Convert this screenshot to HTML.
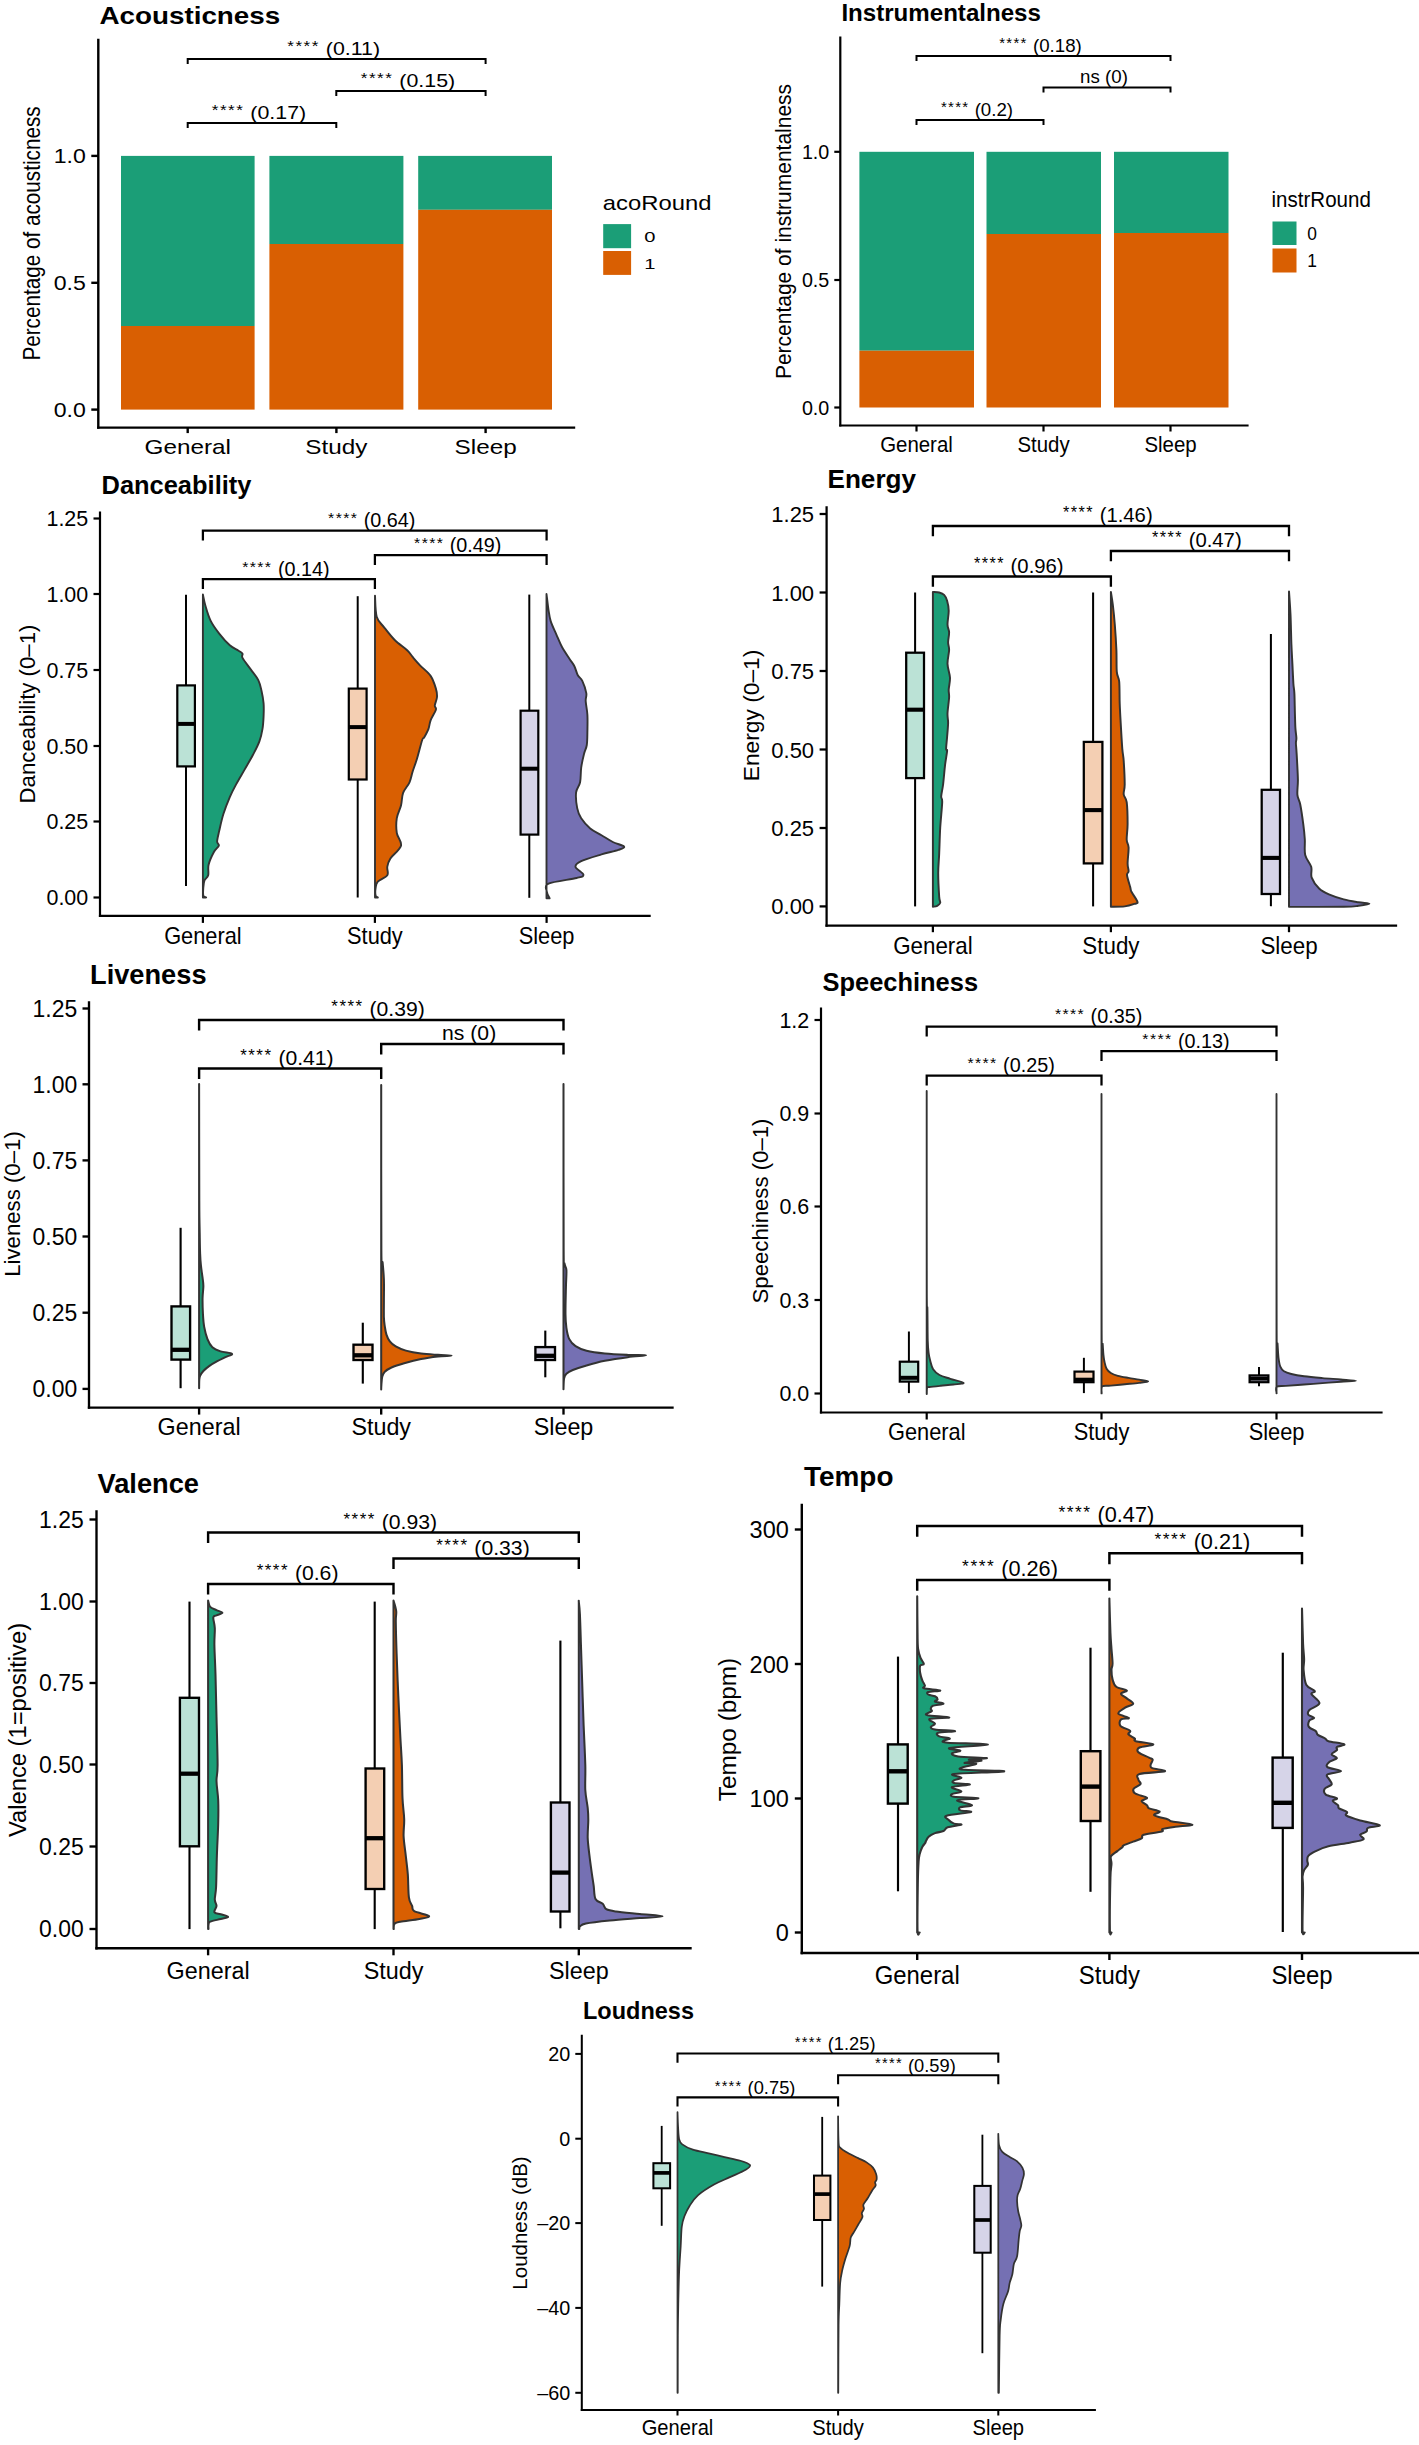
<!DOCTYPE html>
<html><head><meta charset="utf-8"><style>
html,body{margin:0;padding:0;background:#fff;}
svg{display:block;}
text{font-family:"Liberation Sans", sans-serif;}
</style></head><body>
<svg width="1419" height="2445" viewBox="0 0 1419 2445">
<rect width="1419" height="2445" fill="#fff"/>
<text transform="translate(99.40,24.30) scale(1.145,1)" font-size="24.30" text-anchor="start" font-weight="bold" fill="#000">Acousticness</text>
<rect x="121.00" y="155.90" width="133.60" height="170.10" fill="#1B9E77"/>
<rect x="121.00" y="326.00" width="133.60" height="83.60" fill="#D95F02"/>
<rect x="269.40" y="155.90" width="134.00" height="88.10" fill="#1B9E77"/>
<rect x="269.40" y="244.00" width="134.00" height="165.60" fill="#D95F02"/>
<rect x="418.20" y="155.90" width="133.80" height="53.90" fill="#1B9E77"/>
<rect x="418.20" y="209.80" width="133.80" height="199.80" fill="#D95F02"/>
<path d="M98.30,40.00 L98.30,427.60" stroke="#000" stroke-width="2.40" stroke-linecap="square" fill="none"/>
<line x1="91.30" y1="155.90" x2="98.30" y2="155.90" stroke="#000" stroke-width="2.40" stroke-linecap="butt"/>
<text transform="translate(85.80,162.96) scale(1.160,1)" font-size="19.90" text-anchor="end" fill="#000">1.0</text>
<line x1="91.30" y1="282.80" x2="98.30" y2="282.80" stroke="#000" stroke-width="2.40" stroke-linecap="butt"/>
<text transform="translate(85.80,289.86) scale(1.160,1)" font-size="19.90" text-anchor="end" fill="#000">0.5</text>
<line x1="91.30" y1="409.60" x2="98.30" y2="409.60" stroke="#000" stroke-width="2.40" stroke-linecap="butt"/>
<text transform="translate(85.80,416.66) scale(1.160,1)" font-size="19.90" text-anchor="end" fill="#000">0.0</text>
<path d="M98.30,427.60 L574.00,427.60" stroke="#000" stroke-width="2.40" stroke-linecap="square" fill="none"/>
<line x1="187.70" y1="427.60" x2="187.70" y2="433.10" stroke="#000" stroke-width="2.40" stroke-linecap="butt"/>
<text transform="translate(187.70,454.00) scale(1.240,1)" font-size="19.60" text-anchor="middle" fill="#000">General</text>
<line x1="336.40" y1="427.60" x2="336.40" y2="433.10" stroke="#000" stroke-width="2.40" stroke-linecap="butt"/>
<text transform="translate(336.40,454.00) scale(1.240,1)" font-size="19.60" text-anchor="middle" fill="#000">Study</text>
<line x1="485.60" y1="427.60" x2="485.60" y2="433.10" stroke="#000" stroke-width="2.40" stroke-linecap="butt"/>
<text transform="translate(485.60,454.00) scale(1.240,1)" font-size="19.60" text-anchor="middle" fill="#000">Sleep</text>
<path d="M187.70,64.00 L187.70,59.00 L485.60,59.00 L485.60,64.00" fill="none" stroke="#000" stroke-width="2.00"/>
<text transform="translate(333.65,54.80) scale(1.150,1)" font-size="18.60" text-anchor="middle"><tspan font-size="14.88" letter-spacing="1.30" dy="-3.72">****</tspan><tspan dy="3.72"> (0.11)</tspan></text>
<path d="M336.30,96.00 L336.30,91.00 L485.60,91.00 L485.60,96.00" fill="none" stroke="#000" stroke-width="2.00"/>
<text transform="translate(407.95,86.80) scale(1.150,1)" font-size="18.60" text-anchor="middle"><tspan font-size="14.88" letter-spacing="1.30" dy="-3.72">****</tspan><tspan dy="3.72"> (0.15)</tspan></text>
<path d="M187.70,128.00 L187.70,123.00 L336.30,123.00 L336.30,128.00" fill="none" stroke="#000" stroke-width="2.00"/>
<text transform="translate(259.00,118.80) scale(1.150,1)" font-size="18.60" text-anchor="middle"><tspan font-size="14.88" letter-spacing="1.30" dy="-3.72">****</tspan><tspan dy="3.72"> (0.17)</tspan></text>
<text transform="translate(40.20,233.50) scale(1.150,1) rotate(-90)" font-size="20.70" text-anchor="middle" fill="#000">Percentage of acousticness</text>
<text transform="translate(602.80,210.00) scale(1.130,1)" font-size="21.10" text-anchor="start" fill="#000">acoRound</text>
<rect x="603.20" y="224.10" width="27.90" height="24.10" fill="#1B9E77"/>
<rect x="603.20" y="251.00" width="27.90" height="23.90" fill="#D95F02"/>
<text transform="translate(644.30,242.20) scale(1.300,1)" font-size="15.50" text-anchor="start" fill="#000">0</text>
<text transform="translate(644.30,268.80) scale(1.300,1)" font-size="15.50" text-anchor="start" fill="#000">1</text>
<text transform="translate(841.40,21.10) scale(1.000,1)" font-size="24.10" text-anchor="start" font-weight="bold" fill="#000">Instrumentalness</text>
<rect x="859.40" y="151.80" width="114.60" height="198.90" fill="#1B9E77"/>
<rect x="859.40" y="350.70" width="114.60" height="56.80" fill="#D95F02"/>
<rect x="986.50" y="151.80" width="114.50" height="82.20" fill="#1B9E77"/>
<rect x="986.50" y="234.00" width="114.50" height="173.50" fill="#D95F02"/>
<rect x="1114.00" y="151.80" width="114.50" height="81.20" fill="#1B9E77"/>
<rect x="1114.00" y="233.00" width="114.50" height="174.50" fill="#D95F02"/>
<path d="M840.30,37.60 L840.30,425.50" stroke="#000" stroke-width="2.20" stroke-linecap="square" fill="none"/>
<line x1="834.30" y1="151.80" x2="840.30" y2="151.80" stroke="#000" stroke-width="2.20" stroke-linecap="butt"/>
<text transform="translate(829.30,158.94) scale(0.980,1)" font-size="20.10" text-anchor="end" fill="#000">1.0</text>
<line x1="834.30" y1="280.00" x2="840.30" y2="280.00" stroke="#000" stroke-width="2.20" stroke-linecap="butt"/>
<text transform="translate(829.30,287.14) scale(0.980,1)" font-size="20.10" text-anchor="end" fill="#000">0.5</text>
<line x1="834.30" y1="407.50" x2="840.30" y2="407.50" stroke="#000" stroke-width="2.20" stroke-linecap="butt"/>
<text transform="translate(829.30,414.64) scale(0.980,1)" font-size="20.10" text-anchor="end" fill="#000">0.0</text>
<path d="M840.30,425.50 L1247.50,425.50" stroke="#000" stroke-width="2.20" stroke-linecap="square" fill="none"/>
<line x1="916.50" y1="425.50" x2="916.50" y2="431.50" stroke="#000" stroke-width="2.20" stroke-linecap="butt"/>
<text transform="translate(916.50,452.30) scale(0.924,1)" font-size="22.10" text-anchor="middle" fill="#000">General</text>
<line x1="1043.50" y1="425.50" x2="1043.50" y2="431.50" stroke="#000" stroke-width="2.20" stroke-linecap="butt"/>
<text transform="translate(1043.50,452.30) scale(0.924,1)" font-size="22.10" text-anchor="middle" fill="#000">Study</text>
<line x1="1170.50" y1="425.50" x2="1170.50" y2="431.50" stroke="#000" stroke-width="2.20" stroke-linecap="butt"/>
<text transform="translate(1170.50,452.30) scale(0.924,1)" font-size="22.10" text-anchor="middle" fill="#000">Sleep</text>
<path d="M916.50,61.00 L916.50,56.00 L1170.50,56.00 L1170.50,61.00" fill="none" stroke="#000" stroke-width="2.00"/>
<text transform="translate(1040.50,51.80) scale(1.050,1)" font-size="17.80" text-anchor="middle"><tspan font-size="14.24" letter-spacing="1.25" dy="-3.56">****</tspan><tspan dy="3.56"> (0.18)</tspan></text>
<path d="M1043.50,92.50 L1043.50,87.50 L1170.50,87.50 L1170.50,92.50" fill="none" stroke="#000" stroke-width="2.00"/>
<text transform="translate(1104.00,83.30) scale(1.050,1)" font-size="17.80" text-anchor="middle" fill="#000">ns (0)</text>
<path d="M916.50,125.00 L916.50,120.00 L1043.50,120.00 L1043.50,125.00" fill="none" stroke="#000" stroke-width="2.00"/>
<text transform="translate(977.00,115.90) scale(1.050,1)" font-size="17.80" text-anchor="middle"><tspan font-size="14.24" letter-spacing="1.25" dy="-3.56">****</tspan><tspan dy="3.56"> (0.2)</tspan></text>
<text transform="translate(790.70,231.50) scale(1.080,1) rotate(-90)" font-size="21.00" text-anchor="middle" fill="#000">Percentage of instrumentalness</text>
<text transform="translate(1271.50,207.00) scale(0.960,1)" font-size="21.40" text-anchor="start" fill="#000">instrRound</text>
<rect x="1272.50" y="221.50" width="24.00" height="23.50" fill="#1B9E77"/>
<rect x="1272.50" y="248.50" width="24.00" height="24.00" fill="#D95F02"/>
<text transform="translate(1307.20,240.20) scale(0.950,1)" font-size="18.30" text-anchor="start" fill="#000">0</text>
<text transform="translate(1307.20,267.20) scale(0.950,1)" font-size="18.30" text-anchor="start" fill="#000">1</text>
<text transform="translate(101.50,493.90) scale(0.979,1)" font-size="26.00" text-anchor="start" font-weight="bold" fill="#000">Danceability</text>
<path d="M100.00,512.50 L100.00,915.90" stroke="#000" stroke-width="2.20" stroke-linecap="square" fill="none"/>
<line x1="93.50" y1="518.50" x2="100.00" y2="518.50" stroke="#000" stroke-width="2.20" stroke-linecap="butt"/>
<text transform="translate(88.20,526.38) scale(0.966,1)" font-size="22.20" text-anchor="end" fill="#000">1.25</text>
<line x1="93.50" y1="594.00" x2="100.00" y2="594.00" stroke="#000" stroke-width="2.20" stroke-linecap="butt"/>
<text transform="translate(88.20,601.88) scale(0.966,1)" font-size="22.20" text-anchor="end" fill="#000">1.00</text>
<line x1="93.50" y1="670.00" x2="100.00" y2="670.00" stroke="#000" stroke-width="2.20" stroke-linecap="butt"/>
<text transform="translate(88.20,677.88) scale(0.966,1)" font-size="22.20" text-anchor="end" fill="#000">0.75</text>
<line x1="93.50" y1="746.00" x2="100.00" y2="746.00" stroke="#000" stroke-width="2.20" stroke-linecap="butt"/>
<text transform="translate(88.20,753.88) scale(0.966,1)" font-size="22.20" text-anchor="end" fill="#000">0.50</text>
<line x1="93.50" y1="821.50" x2="100.00" y2="821.50" stroke="#000" stroke-width="2.20" stroke-linecap="butt"/>
<text transform="translate(88.20,829.38) scale(0.966,1)" font-size="22.20" text-anchor="end" fill="#000">0.25</text>
<line x1="93.50" y1="897.50" x2="100.00" y2="897.50" stroke="#000" stroke-width="2.20" stroke-linecap="butt"/>
<text transform="translate(88.20,905.38) scale(0.966,1)" font-size="22.20" text-anchor="end" fill="#000">0.00</text>
<path d="M100.00,915.90 L649.60,915.90" stroke="#000" stroke-width="2.20" stroke-linecap="square" fill="none"/>
<line x1="202.90" y1="915.90" x2="202.90" y2="922.90" stroke="#000" stroke-width="2.20" stroke-linecap="butt"/>
<text transform="translate(202.90,944.10) scale(0.940,1)" font-size="23.20" text-anchor="middle" fill="#000">General</text>
<line x1="374.90" y1="915.90" x2="374.90" y2="922.90" stroke="#000" stroke-width="2.20" stroke-linecap="butt"/>
<text transform="translate(374.90,944.10) scale(0.940,1)" font-size="23.20" text-anchor="middle" fill="#000">Study</text>
<line x1="546.60" y1="915.90" x2="546.60" y2="922.90" stroke="#000" stroke-width="2.20" stroke-linecap="butt"/>
<text transform="translate(546.60,944.10) scale(0.940,1)" font-size="23.20" text-anchor="middle" fill="#000">Sleep</text>
<path d="M202.90,540.60 L202.90,530.70 L546.60,530.70 L546.60,540.60" fill="none" stroke="#000" stroke-width="2.25"/>
<text transform="translate(371.75,527.20) scale(1.020,1)" font-size="19.40" text-anchor="middle"><tspan font-size="15.52" letter-spacing="1.36" dy="-3.88">****</tspan><tspan dy="3.88"> (0.64)</tspan></text>
<path d="M374.90,564.90 L374.90,555.00 L546.60,555.00 L546.60,564.90" fill="none" stroke="#000" stroke-width="2.25"/>
<text transform="translate(457.75,551.50) scale(1.020,1)" font-size="19.40" text-anchor="middle"><tspan font-size="15.52" letter-spacing="1.36" dy="-3.88">****</tspan><tspan dy="3.88"> (0.49)</tspan></text>
<path d="M202.90,589.10 L202.90,579.20 L374.90,579.20 L374.90,589.10" fill="none" stroke="#000" stroke-width="2.25"/>
<text transform="translate(285.90,575.70) scale(1.020,1)" font-size="19.40" text-anchor="middle"><tspan font-size="15.52" letter-spacing="1.36" dy="-3.88">****</tspan><tspan dy="3.88"> (0.14)</tspan></text>
<text transform="translate(35.00,714.00) scale(1.000,1) rotate(-90)" font-size="22.20" text-anchor="middle" fill="#000">Danceability (0–1)</text>
<text transform="translate(827.50,487.50) scale(0.979,1)" font-size="26.68" text-anchor="start" font-weight="bold" fill="#000">Energy</text>
<path d="M826.60,507.50 L826.60,925.70" stroke="#000" stroke-width="2.26" stroke-linecap="square" fill="none"/>
<line x1="819.60" y1="514.00" x2="826.60" y2="514.00" stroke="#000" stroke-width="2.26" stroke-linecap="butt"/>
<text transform="translate(814.10,522.09) scale(0.966,1)" font-size="22.78" text-anchor="end" fill="#000">1.25</text>
<line x1="819.60" y1="592.50" x2="826.60" y2="592.50" stroke="#000" stroke-width="2.26" stroke-linecap="butt"/>
<text transform="translate(814.10,600.59) scale(0.966,1)" font-size="22.78" text-anchor="end" fill="#000">1.00</text>
<line x1="819.60" y1="671.00" x2="826.60" y2="671.00" stroke="#000" stroke-width="2.26" stroke-linecap="butt"/>
<text transform="translate(814.10,679.09) scale(0.966,1)" font-size="22.78" text-anchor="end" fill="#000">0.75</text>
<line x1="819.60" y1="749.50" x2="826.60" y2="749.50" stroke="#000" stroke-width="2.26" stroke-linecap="butt"/>
<text transform="translate(814.10,757.59) scale(0.966,1)" font-size="22.78" text-anchor="end" fill="#000">0.50</text>
<line x1="819.60" y1="828.00" x2="826.60" y2="828.00" stroke="#000" stroke-width="2.26" stroke-linecap="butt"/>
<text transform="translate(814.10,836.09) scale(0.966,1)" font-size="22.78" text-anchor="end" fill="#000">0.25</text>
<line x1="819.60" y1="906.40" x2="826.60" y2="906.40" stroke="#000" stroke-width="2.26" stroke-linecap="butt"/>
<text transform="translate(814.10,914.49) scale(0.966,1)" font-size="22.78" text-anchor="end" fill="#000">0.00</text>
<path d="M826.60,925.70 L1396.00,925.70" stroke="#000" stroke-width="2.26" stroke-linecap="square" fill="none"/>
<line x1="932.90" y1="925.70" x2="932.90" y2="932.20" stroke="#000" stroke-width="2.26" stroke-linecap="butt"/>
<text transform="translate(932.90,953.60) scale(0.940,1)" font-size="23.80" text-anchor="middle" fill="#000">General</text>
<line x1="1110.90" y1="925.70" x2="1110.90" y2="932.20" stroke="#000" stroke-width="2.26" stroke-linecap="butt"/>
<text transform="translate(1110.90,953.60) scale(0.940,1)" font-size="23.80" text-anchor="middle" fill="#000">Study</text>
<line x1="1289.00" y1="925.70" x2="1289.00" y2="932.20" stroke="#000" stroke-width="2.26" stroke-linecap="butt"/>
<text transform="translate(1289.00,953.60) scale(0.940,1)" font-size="23.80" text-anchor="middle" fill="#000">Sleep</text>
<path d="M932.90,536.16 L932.90,526.00 L1289.00,526.00 L1289.00,536.16" fill="none" stroke="#000" stroke-width="2.31"/>
<text transform="translate(1107.87,522.41) scale(1.020,1)" font-size="19.90" text-anchor="middle"><tspan font-size="15.92" letter-spacing="1.39" dy="-3.98">****</tspan><tspan dy="3.98"> (1.46)</tspan></text>
<path d="M1110.90,561.16 L1110.90,551.00 L1289.00,551.00 L1289.00,561.16" fill="none" stroke="#000" stroke-width="2.31"/>
<text transform="translate(1196.87,547.41) scale(1.020,1)" font-size="19.90" text-anchor="middle"><tspan font-size="15.92" letter-spacing="1.39" dy="-3.98">****</tspan><tspan dy="3.98"> (0.47)</tspan></text>
<path d="M932.90,586.66 L932.90,576.50 L1110.90,576.50 L1110.90,586.66" fill="none" stroke="#000" stroke-width="2.31"/>
<text transform="translate(1018.82,572.91) scale(1.020,1)" font-size="19.90" text-anchor="middle"><tspan font-size="15.92" letter-spacing="1.39" dy="-3.98">****</tspan><tspan dy="3.98"> (0.96)</tspan></text>
<text transform="translate(758.70,715.50) scale(1.000,1) rotate(-90)" font-size="22.78" text-anchor="middle" fill="#000">Energy (0–1)</text>
<text transform="translate(90.00,983.50) scale(0.979,1)" font-size="27.82" text-anchor="start" font-weight="bold" fill="#000">Liveness</text>
<path d="M89.00,1002.50 L89.00,1407.60" stroke="#000" stroke-width="2.35" stroke-linecap="square" fill="none"/>
<line x1="82.50" y1="1008.50" x2="89.00" y2="1008.50" stroke="#000" stroke-width="2.35" stroke-linecap="butt"/>
<text transform="translate(77.20,1016.93) scale(0.966,1)" font-size="23.75" text-anchor="end" fill="#000">1.25</text>
<line x1="82.50" y1="1084.30" x2="89.00" y2="1084.30" stroke="#000" stroke-width="2.35" stroke-linecap="butt"/>
<text transform="translate(77.20,1092.73) scale(0.966,1)" font-size="23.75" text-anchor="end" fill="#000">1.00</text>
<line x1="82.50" y1="1160.40" x2="89.00" y2="1160.40" stroke="#000" stroke-width="2.35" stroke-linecap="butt"/>
<text transform="translate(77.20,1168.83) scale(0.966,1)" font-size="23.75" text-anchor="end" fill="#000">0.75</text>
<line x1="82.50" y1="1236.50" x2="89.00" y2="1236.50" stroke="#000" stroke-width="2.35" stroke-linecap="butt"/>
<text transform="translate(77.20,1244.93) scale(0.966,1)" font-size="23.75" text-anchor="end" fill="#000">0.50</text>
<line x1="82.50" y1="1312.70" x2="89.00" y2="1312.70" stroke="#000" stroke-width="2.35" stroke-linecap="butt"/>
<text transform="translate(77.20,1321.13) scale(0.966,1)" font-size="23.75" text-anchor="end" fill="#000">0.25</text>
<line x1="82.50" y1="1388.90" x2="89.00" y2="1388.90" stroke="#000" stroke-width="2.35" stroke-linecap="butt"/>
<text transform="translate(77.20,1397.33) scale(0.966,1)" font-size="23.75" text-anchor="end" fill="#000">0.00</text>
<path d="M89.00,1407.60 L672.50,1407.60" stroke="#000" stroke-width="2.35" stroke-linecap="square" fill="none"/>
<line x1="199.10" y1="1407.60" x2="199.10" y2="1414.60" stroke="#000" stroke-width="2.35" stroke-linecap="butt"/>
<text transform="translate(199.10,1435.00) scale(0.940,1)" font-size="24.82" text-anchor="middle" fill="#000">General</text>
<line x1="381.20" y1="1407.60" x2="381.20" y2="1414.60" stroke="#000" stroke-width="2.35" stroke-linecap="butt"/>
<text transform="translate(381.20,1435.00) scale(0.940,1)" font-size="24.82" text-anchor="middle" fill="#000">Study</text>
<line x1="563.50" y1="1407.60" x2="563.50" y2="1414.60" stroke="#000" stroke-width="2.35" stroke-linecap="butt"/>
<text transform="translate(563.50,1435.00) scale(0.940,1)" font-size="24.82" text-anchor="middle" fill="#000">Sleep</text>
<path d="M199.10,1030.59 L199.10,1020.00 L563.50,1020.00 L563.50,1030.59" fill="none" stroke="#000" stroke-width="2.41"/>
<text transform="translate(378.09,1016.25) scale(1.020,1)" font-size="20.76" text-anchor="middle"><tspan font-size="16.61" letter-spacing="1.45" dy="-4.15">****</tspan><tspan dy="4.15"> (0.39)</tspan></text>
<path d="M381.20,1054.59 L381.20,1044.00 L563.50,1044.00 L563.50,1054.59" fill="none" stroke="#000" stroke-width="2.41"/>
<text transform="translate(469.14,1040.26) scale(1.020,1)" font-size="20.76" text-anchor="middle" fill="#000">ns (0)</text>
<path d="M199.10,1079.09 L199.10,1068.50 L381.20,1068.50 L381.20,1079.09" fill="none" stroke="#000" stroke-width="2.41"/>
<text transform="translate(286.94,1064.76) scale(1.020,1)" font-size="20.76" text-anchor="middle"><tspan font-size="16.61" letter-spacing="1.45" dy="-4.15">****</tspan><tspan dy="4.15"> (0.41)</tspan></text>
<text transform="translate(20.00,1204.00) scale(1.000,1) rotate(-90)" font-size="22.20" text-anchor="middle" fill="#000">Liveness (0–1)</text>
<text transform="translate(822.50,991.00) scale(0.979,1)" font-size="26.00" text-anchor="start" font-weight="bold" fill="#000">Speechiness</text>
<path d="M821.00,1008.50 L821.00,1412.50" stroke="#000" stroke-width="2.20" stroke-linecap="square" fill="none"/>
<line x1="814.50" y1="1020.00" x2="821.00" y2="1020.00" stroke="#000" stroke-width="2.20" stroke-linecap="butt"/>
<text transform="translate(809.20,1027.88) scale(0.966,1)" font-size="22.20" text-anchor="end" fill="#000">1.2</text>
<line x1="814.50" y1="1113.50" x2="821.00" y2="1113.50" stroke="#000" stroke-width="2.20" stroke-linecap="butt"/>
<text transform="translate(809.20,1121.38) scale(0.966,1)" font-size="22.20" text-anchor="end" fill="#000">0.9</text>
<line x1="814.50" y1="1206.50" x2="821.00" y2="1206.50" stroke="#000" stroke-width="2.20" stroke-linecap="butt"/>
<text transform="translate(809.20,1214.38) scale(0.966,1)" font-size="22.20" text-anchor="end" fill="#000">0.6</text>
<line x1="814.50" y1="1300.00" x2="821.00" y2="1300.00" stroke="#000" stroke-width="2.20" stroke-linecap="butt"/>
<text transform="translate(809.20,1307.88) scale(0.966,1)" font-size="22.20" text-anchor="end" fill="#000">0.3</text>
<line x1="814.50" y1="1393.50" x2="821.00" y2="1393.50" stroke="#000" stroke-width="2.20" stroke-linecap="butt"/>
<text transform="translate(809.20,1401.38) scale(0.966,1)" font-size="22.20" text-anchor="end" fill="#000">0.0</text>
<path d="M821.00,1412.50 L1381.50,1412.50" stroke="#000" stroke-width="2.20" stroke-linecap="square" fill="none"/>
<line x1="926.70" y1="1412.50" x2="926.70" y2="1419.50" stroke="#000" stroke-width="2.20" stroke-linecap="butt"/>
<text transform="translate(926.70,1440.00) scale(0.940,1)" font-size="23.20" text-anchor="middle" fill="#000">General</text>
<line x1="1101.50" y1="1412.50" x2="1101.50" y2="1419.50" stroke="#000" stroke-width="2.20" stroke-linecap="butt"/>
<text transform="translate(1101.50,1440.00) scale(0.940,1)" font-size="23.20" text-anchor="middle" fill="#000">Study</text>
<line x1="1276.50" y1="1412.50" x2="1276.50" y2="1419.50" stroke="#000" stroke-width="2.20" stroke-linecap="butt"/>
<text transform="translate(1276.50,1440.00) scale(0.940,1)" font-size="23.20" text-anchor="middle" fill="#000">Sleep</text>
<path d="M926.70,1036.40 L926.70,1026.50 L1276.50,1026.50 L1276.50,1036.40" fill="none" stroke="#000" stroke-width="2.25"/>
<text transform="translate(1098.60,1023.00) scale(1.020,1)" font-size="19.40" text-anchor="middle"><tspan font-size="15.52" letter-spacing="1.36" dy="-3.88">****</tspan><tspan dy="3.88"> (0.35)</tspan></text>
<path d="M1101.50,1060.90 L1101.50,1051.00 L1276.50,1051.00 L1276.50,1060.90" fill="none" stroke="#000" stroke-width="2.25"/>
<text transform="translate(1186.00,1047.50) scale(1.020,1)" font-size="19.40" text-anchor="middle"><tspan font-size="15.52" letter-spacing="1.36" dy="-3.88">****</tspan><tspan dy="3.88"> (0.13)</tspan></text>
<path d="M926.70,1085.40 L926.70,1075.50 L1101.50,1075.50 L1101.50,1085.40" fill="none" stroke="#000" stroke-width="2.25"/>
<text transform="translate(1011.10,1072.00) scale(1.020,1)" font-size="19.40" text-anchor="middle"><tspan font-size="15.52" letter-spacing="1.36" dy="-3.88">****</tspan><tspan dy="3.88"> (0.25)</tspan></text>
<text transform="translate(768.30,1211.00) scale(1.000,1) rotate(-90)" font-size="22.20" text-anchor="middle" fill="#000">Speechiness (0–1)</text>
<text transform="translate(97.50,1492.50) scale(0.979,1)" font-size="27.85" text-anchor="start" font-weight="bold" fill="#000">Valence</text>
<path d="M96.50,1511.50 L96.50,1948.30" stroke="#000" stroke-width="2.36" stroke-linecap="square" fill="none"/>
<line x1="89.50" y1="1519.50" x2="96.50" y2="1519.50" stroke="#000" stroke-width="2.36" stroke-linecap="butt"/>
<text transform="translate(83.70,1527.94) scale(0.966,1)" font-size="23.78" text-anchor="end" fill="#000">1.25</text>
<line x1="89.50" y1="1601.50" x2="96.50" y2="1601.50" stroke="#000" stroke-width="2.36" stroke-linecap="butt"/>
<text transform="translate(83.70,1609.94) scale(0.966,1)" font-size="23.78" text-anchor="end" fill="#000">1.00</text>
<line x1="89.50" y1="1683.00" x2="96.50" y2="1683.00" stroke="#000" stroke-width="2.36" stroke-linecap="butt"/>
<text transform="translate(83.70,1691.44) scale(0.966,1)" font-size="23.78" text-anchor="end" fill="#000">0.75</text>
<line x1="89.50" y1="1764.50" x2="96.50" y2="1764.50" stroke="#000" stroke-width="2.36" stroke-linecap="butt"/>
<text transform="translate(83.70,1772.94) scale(0.966,1)" font-size="23.78" text-anchor="end" fill="#000">0.50</text>
<line x1="89.50" y1="1846.50" x2="96.50" y2="1846.50" stroke="#000" stroke-width="2.36" stroke-linecap="butt"/>
<text transform="translate(83.70,1854.94) scale(0.966,1)" font-size="23.78" text-anchor="end" fill="#000">0.25</text>
<line x1="89.50" y1="1929.00" x2="96.50" y2="1929.00" stroke="#000" stroke-width="2.36" stroke-linecap="butt"/>
<text transform="translate(83.70,1937.44) scale(0.966,1)" font-size="23.78" text-anchor="end" fill="#000">0.00</text>
<path d="M96.50,1948.30 L690.50,1948.30" stroke="#000" stroke-width="2.36" stroke-linecap="square" fill="none"/>
<line x1="208.10" y1="1948.30" x2="208.10" y2="1955.30" stroke="#000" stroke-width="2.36" stroke-linecap="butt"/>
<text transform="translate(208.10,1978.90) scale(0.940,1)" font-size="24.85" text-anchor="middle" fill="#000">General</text>
<line x1="393.50" y1="1948.30" x2="393.50" y2="1955.30" stroke="#000" stroke-width="2.36" stroke-linecap="butt"/>
<text transform="translate(393.50,1978.90) scale(0.940,1)" font-size="24.85" text-anchor="middle" fill="#000">Study</text>
<line x1="578.80" y1="1948.30" x2="578.80" y2="1955.30" stroke="#000" stroke-width="2.36" stroke-linecap="butt"/>
<text transform="translate(578.80,1978.90) scale(0.940,1)" font-size="24.85" text-anchor="middle" fill="#000">Sleep</text>
<path d="M208.10,1543.10 L208.10,1532.50 L578.80,1532.50 L578.80,1543.10" fill="none" stroke="#000" stroke-width="2.41"/>
<text transform="translate(390.24,1528.75) scale(1.020,1)" font-size="20.78" text-anchor="middle"><tspan font-size="16.62" letter-spacing="1.45" dy="-4.16">****</tspan><tspan dy="4.16"> (0.93)</tspan></text>
<path d="M393.50,1569.10 L393.50,1558.50 L578.80,1558.50 L578.80,1569.10" fill="none" stroke="#000" stroke-width="2.41"/>
<text transform="translate(482.94,1554.75) scale(1.020,1)" font-size="20.78" text-anchor="middle"><tspan font-size="16.62" letter-spacing="1.45" dy="-4.16">****</tspan><tspan dy="4.16"> (0.33)</tspan></text>
<path d="M208.10,1594.60 L208.10,1584.00 L393.50,1584.00 L393.50,1594.60" fill="none" stroke="#000" stroke-width="2.41"/>
<text transform="translate(297.59,1580.25) scale(1.020,1)" font-size="20.78" text-anchor="middle"><tspan font-size="16.62" letter-spacing="1.45" dy="-4.16">****</tspan><tspan dy="4.16"> (0.6)</tspan></text>
<text transform="translate(25.90,1730.00) scale(1.000,1) rotate(-90)" font-size="23.78" text-anchor="middle" fill="#000">Valence (1=positive)</text>
<text transform="translate(804.00,1486.00) scale(0.979,1)" font-size="28.52" text-anchor="start" font-weight="bold" fill="#000">Tempo</text>
<path d="M801.80,1505.00 L801.80,1953.00" stroke="#000" stroke-width="2.41" stroke-linecap="square" fill="none"/>
<line x1="794.80" y1="1529.50" x2="801.80" y2="1529.50" stroke="#000" stroke-width="2.41" stroke-linecap="butt"/>
<text transform="translate(788.80,1538.15) scale(0.966,1)" font-size="24.35" text-anchor="end" fill="#000">300</text>
<line x1="794.80" y1="1664.00" x2="801.80" y2="1664.00" stroke="#000" stroke-width="2.41" stroke-linecap="butt"/>
<text transform="translate(788.80,1672.65) scale(0.966,1)" font-size="24.35" text-anchor="end" fill="#000">200</text>
<line x1="794.80" y1="1798.50" x2="801.80" y2="1798.50" stroke="#000" stroke-width="2.41" stroke-linecap="butt"/>
<text transform="translate(788.80,1807.15) scale(0.966,1)" font-size="24.35" text-anchor="end" fill="#000">100</text>
<line x1="794.80" y1="1932.50" x2="801.80" y2="1932.50" stroke="#000" stroke-width="2.41" stroke-linecap="butt"/>
<text transform="translate(788.80,1941.15) scale(0.966,1)" font-size="24.35" text-anchor="end" fill="#000">0</text>
<path d="M801.80,1953.00 L1419.00,1953.00" stroke="#000" stroke-width="2.41" stroke-linecap="square" fill="none"/>
<line x1="917.20" y1="1953.00" x2="917.20" y2="1960.00" stroke="#000" stroke-width="2.41" stroke-linecap="butt"/>
<text transform="translate(917.20,1983.50) scale(0.940,1)" font-size="25.45" text-anchor="middle" fill="#000">General</text>
<line x1="1109.40" y1="1953.00" x2="1109.40" y2="1960.00" stroke="#000" stroke-width="2.41" stroke-linecap="butt"/>
<text transform="translate(1109.40,1983.50) scale(0.940,1)" font-size="25.45" text-anchor="middle" fill="#000">Study</text>
<line x1="1302.00" y1="1953.00" x2="1302.00" y2="1960.00" stroke="#000" stroke-width="2.41" stroke-linecap="butt"/>
<text transform="translate(1302.00,1983.50) scale(0.940,1)" font-size="25.45" text-anchor="middle" fill="#000">Sleep</text>
<path d="M917.20,1536.86 L917.20,1526.00 L1302.00,1526.00 L1302.00,1536.86" fill="none" stroke="#000" stroke-width="2.47"/>
<text transform="translate(1106.31,1522.16) scale(1.020,1)" font-size="21.28" text-anchor="middle"><tspan font-size="17.03" letter-spacing="1.49" dy="-4.26">****</tspan><tspan dy="4.26"> (0.47)</tspan></text>
<path d="M1109.40,1564.16 L1109.40,1553.30 L1302.00,1553.30 L1302.00,1564.16" fill="none" stroke="#000" stroke-width="2.47"/>
<text transform="translate(1202.41,1549.46) scale(1.020,1)" font-size="21.28" text-anchor="middle"><tspan font-size="17.03" letter-spacing="1.49" dy="-4.26">****</tspan><tspan dy="4.26"> (0.21)</tspan></text>
<path d="M917.20,1590.86 L917.20,1580.00 L1109.40,1580.00 L1109.40,1590.86" fill="none" stroke="#000" stroke-width="2.47"/>
<text transform="translate(1010.01,1576.16) scale(1.020,1)" font-size="21.28" text-anchor="middle"><tspan font-size="17.03" letter-spacing="1.49" dy="-4.26">****</tspan><tspan dy="4.26"> (0.26)</tspan></text>
<text transform="translate(736.30,1729.50) scale(1.000,1) rotate(-90)" font-size="24.35" text-anchor="middle" fill="#000">Tempo (bpm)</text>
<text transform="translate(583.00,2018.90) scale(0.979,1)" font-size="24.02" text-anchor="start" font-weight="bold" fill="#000">Loudness</text>
<path d="M581.80,2035.70 L581.80,2410.00" stroke="#000" stroke-width="2.03" stroke-linecap="square" fill="none"/>
<line x1="575.30" y1="2053.90" x2="581.80" y2="2053.90" stroke="#000" stroke-width="2.03" stroke-linecap="butt"/>
<text transform="translate(570.30,2061.18) scale(0.966,1)" font-size="20.51" text-anchor="end" fill="#000">20</text>
<line x1="575.30" y1="2138.70" x2="581.80" y2="2138.70" stroke="#000" stroke-width="2.03" stroke-linecap="butt"/>
<text transform="translate(570.30,2145.98) scale(0.966,1)" font-size="20.51" text-anchor="end" fill="#000">0</text>
<line x1="575.30" y1="2223.10" x2="581.80" y2="2223.10" stroke="#000" stroke-width="2.03" stroke-linecap="butt"/>
<text transform="translate(570.30,2230.38) scale(0.966,1)" font-size="20.51" text-anchor="end" fill="#000">–20</text>
<line x1="575.30" y1="2307.90" x2="581.80" y2="2307.90" stroke="#000" stroke-width="2.03" stroke-linecap="butt"/>
<text transform="translate(570.30,2315.18) scale(0.966,1)" font-size="20.51" text-anchor="end" fill="#000">–40</text>
<line x1="575.30" y1="2392.80" x2="581.80" y2="2392.80" stroke="#000" stroke-width="2.03" stroke-linecap="butt"/>
<text transform="translate(570.30,2400.08) scale(0.966,1)" font-size="20.51" text-anchor="end" fill="#000">–60</text>
<path d="M581.80,2410.00 L1094.90,2410.00" stroke="#000" stroke-width="2.03" stroke-linecap="square" fill="none"/>
<line x1="677.50" y1="2410.00" x2="677.50" y2="2415.50" stroke="#000" stroke-width="2.03" stroke-linecap="butt"/>
<text transform="translate(677.50,2434.80) scale(0.940,1)" font-size="21.44" text-anchor="middle" fill="#000">General</text>
<line x1="838.10" y1="2410.00" x2="838.10" y2="2415.50" stroke="#000" stroke-width="2.03" stroke-linecap="butt"/>
<text transform="translate(838.10,2434.80) scale(0.940,1)" font-size="21.44" text-anchor="middle" fill="#000">Study</text>
<line x1="998.30" y1="2410.00" x2="998.30" y2="2415.50" stroke="#000" stroke-width="2.03" stroke-linecap="butt"/>
<text transform="translate(998.30,2434.80) scale(0.940,1)" font-size="21.44" text-anchor="middle" fill="#000">Sleep</text>
<path d="M677.50,2062.65 L677.50,2053.50 L998.30,2053.50 L998.30,2062.65" fill="none" stroke="#000" stroke-width="2.08"/>
<text transform="translate(835.13,2050.27) scale(1.020,1)" font-size="17.93" text-anchor="middle"><tspan font-size="14.34" letter-spacing="1.25" dy="-3.59">****</tspan><tspan dy="3.59"> (1.25)</tspan></text>
<path d="M838.10,2084.35 L838.10,2075.20 L998.30,2075.20 L998.30,2084.35" fill="none" stroke="#000" stroke-width="2.08"/>
<text transform="translate(915.43,2071.97) scale(1.020,1)" font-size="17.93" text-anchor="middle"><tspan font-size="14.34" letter-spacing="1.25" dy="-3.59">****</tspan><tspan dy="3.59"> (0.59)</tspan></text>
<path d="M677.50,2106.55 L677.50,2097.40 L838.10,2097.40 L838.10,2106.55" fill="none" stroke="#000" stroke-width="2.08"/>
<text transform="translate(755.03,2094.17) scale(1.020,1)" font-size="17.93" text-anchor="middle"><tspan font-size="14.34" letter-spacing="1.25" dy="-3.59">****</tspan><tspan dy="3.59"> (0.75)</tspan></text>
<text transform="translate(526.60,2223.00) scale(1.000,1) rotate(-90)" font-size="20.51" text-anchor="middle" fill="#000">Loudness (dB)</text>
<line x1="186.00" y1="594.80" x2="186.00" y2="685.40" stroke="#000" stroke-width="1.98" stroke-linecap="butt"/>
<line x1="186.00" y1="766.40" x2="186.00" y2="885.90" stroke="#000" stroke-width="1.98" stroke-linecap="butt"/>
<rect x="177.30" y="685.40" width="17.60" height="81.00" fill="#BBE2D6" stroke="#000" stroke-width="2.20"/>
<line x1="177.30" y1="723.90" x2="194.90" y2="723.90" stroke="#000" stroke-width="4.00" stroke-linecap="butt"/>
<path d="M202.90,594.50 L202.90,594.50 C203.33,596.43 204.20,601.70 205.50,606.10 C206.80,610.50 208.42,616.32 210.70,620.90 C212.98,625.48 216.02,629.53 219.20,633.60 C222.38,637.67 226.63,642.48 229.80,645.30 C232.97,648.12 236.08,649.10 238.20,650.50 C240.32,651.90 241.78,652.47 242.50,653.70 C243.22,654.93 241.10,655.25 242.50,657.90 C243.90,660.55 248.27,665.90 250.90,669.60 C253.53,673.30 256.53,676.58 258.30,680.10 C260.07,683.62 260.62,686.82 261.50,690.70 C262.38,694.58 263.25,699.17 263.60,703.40 C263.95,707.63 263.78,711.87 263.60,716.10 C263.42,720.33 263.20,724.58 262.50,728.80 C261.80,733.02 260.98,737.07 259.40,741.40 C257.82,745.73 255.47,750.10 253.00,754.80 C250.53,759.50 247.42,764.67 244.60,769.60 C241.78,774.53 238.57,779.82 236.10,784.40 C233.63,788.98 231.92,792.17 229.80,797.10 C227.68,802.03 225.17,808.37 223.40,814.00 C221.63,819.63 220.25,826.32 219.20,830.90 C218.15,835.48 217.17,839.03 217.10,841.50 C217.03,843.97 219.33,843.95 218.80,845.70 C218.27,847.45 215.60,848.83 213.90,852.00 C212.20,855.17 209.55,860.82 208.60,864.70 C207.65,868.58 208.90,872.65 208.20,875.30 C207.50,877.95 205.22,878.48 204.40,880.60 C203.58,882.72 203.48,885.53 203.30,888.00 C203.12,890.47 202.83,893.82 203.30,895.40 C203.77,896.98 205.63,897.15 206.10,897.50 L202.90,897.50 Z" fill="#1B9E77" stroke="#333333" stroke-width="1.90" stroke-linejoin="round"/>
<line x1="357.70" y1="596.20" x2="357.70" y2="688.60" stroke="#000" stroke-width="1.98" stroke-linecap="butt"/>
<line x1="357.70" y1="779.50" x2="357.70" y2="897.50" stroke="#000" stroke-width="1.98" stroke-linecap="butt"/>
<rect x="348.80" y="688.60" width="17.80" height="90.90" fill="#F4CFB3" stroke="#000" stroke-width="2.20"/>
<line x1="348.80" y1="727.10" x2="366.60" y2="727.10" stroke="#000" stroke-width="4.00" stroke-linecap="butt"/>
<path d="M375.00,595.60 L375.00,595.60 C375.28,599.12 375.18,611.42 376.70,616.70 C378.22,621.98 381.10,623.42 384.10,627.30 C387.10,631.18 390.82,636.13 394.70,640.00 C398.58,643.87 404.42,647.68 407.40,650.50 C410.38,653.32 410.50,654.43 412.60,656.90 C414.70,659.37 417.00,662.13 420.00,665.30 C423.00,668.47 427.95,672.02 430.60,675.90 C433.25,679.78 434.83,685.08 435.90,688.60 C436.97,692.12 437.18,694.18 437.00,697.00 C436.82,699.82 434.98,703.38 434.80,705.50 C434.62,707.62 436.60,707.23 435.90,709.70 C435.20,712.17 431.83,717.12 430.60,720.30 C429.37,723.48 429.55,725.98 428.50,728.80 C427.45,731.62 425.35,735.33 424.30,737.20 C423.25,739.07 423.43,736.37 422.20,740.00 C420.97,743.63 418.50,753.72 416.90,759.00 C415.30,764.28 413.83,767.82 412.60,771.70 C411.37,775.58 411.08,778.77 409.50,782.30 C407.92,785.83 404.52,789.03 403.10,792.90 C401.68,796.77 402.05,801.28 401.00,805.50 C399.95,809.72 397.50,813.62 396.80,818.20 C396.10,822.78 396.10,828.42 396.80,833.00 C397.50,837.58 402.07,841.47 401.00,845.70 C399.93,849.93 392.68,854.88 390.40,858.40 C388.12,861.92 387.82,863.98 387.30,866.80 C386.78,869.62 388.88,872.83 387.30,875.30 C385.72,877.77 379.75,879.48 377.80,881.60 C375.85,883.72 375.97,885.70 375.60,888.00 C375.23,890.30 375.23,893.82 375.60,895.40 C375.97,896.98 377.43,897.15 377.80,897.50 L375.00,897.50 Z" fill="#D95F02" stroke="#333333" stroke-width="1.90" stroke-linejoin="round"/>
<line x1="529.30" y1="594.60" x2="529.30" y2="710.70" stroke="#000" stroke-width="1.98" stroke-linecap="butt"/>
<line x1="529.30" y1="834.60" x2="529.30" y2="897.80" stroke="#000" stroke-width="1.98" stroke-linecap="butt"/>
<rect x="520.60" y="710.70" width="17.70" height="123.90" fill="#D6D4E8" stroke="#000" stroke-width="2.20"/>
<line x1="520.60" y1="768.70" x2="538.30" y2="768.70" stroke="#000" stroke-width="4.00" stroke-linecap="butt"/>
<path d="M546.50,594.00 L546.50,594.00 C546.83,596.63 547.80,605.28 548.50,609.80 C549.20,614.32 549.38,616.97 550.70,621.10 C552.02,625.23 554.52,630.28 556.40,634.60 C558.28,638.92 559.75,642.87 562.00,647.00 C564.25,651.13 567.83,656.20 569.90,659.40 C571.97,662.60 573.08,663.57 574.40,666.20 C575.72,668.83 576.48,672.77 577.80,675.20 C579.12,677.63 580.88,677.80 582.30,680.80 C583.72,683.80 585.73,689.82 586.30,693.20 C586.87,696.58 585.52,697.52 585.70,701.10 C585.88,704.68 587.12,709.62 587.40,714.70 C587.68,719.78 587.50,726.55 587.40,731.60 C587.30,736.65 587.37,741.27 586.80,745.00 C586.23,748.73 584.93,750.23 584.00,754.00 C583.07,757.77 581.85,762.90 581.20,767.60 C580.55,772.30 580.95,778.07 580.10,782.20 C579.25,786.33 576.58,788.08 576.10,792.40 C575.62,796.72 576.35,803.78 577.20,808.10 C578.05,812.42 579.03,814.92 581.20,818.30 C583.37,821.68 586.82,825.58 590.20,828.40 C593.58,831.22 597.73,832.93 601.50,835.20 C605.27,837.47 609.05,840.12 612.80,842.00 C616.55,843.88 623.07,845.18 624.00,846.50 C624.93,847.82 622.15,848.58 618.40,849.90 C614.65,851.22 607.70,852.53 601.50,854.40 C595.30,856.27 585.53,859.03 581.20,861.10 C576.87,863.17 575.13,864.53 575.50,866.80 C575.87,869.07 583.20,872.83 583.40,874.70 C583.60,876.57 582.52,876.50 576.70,878.00 C570.88,879.50 553.48,881.43 548.50,883.70 C543.52,885.97 546.62,889.17 546.80,891.60 C546.98,894.03 549.13,897.18 549.60,898.30 L546.50,898.30 Z" fill="#7570B3" stroke="#333333" stroke-width="1.90" stroke-linejoin="round"/>
<line x1="915.10" y1="592.50" x2="915.10" y2="652.70" stroke="#000" stroke-width="2.03" stroke-linecap="butt"/>
<line x1="915.10" y1="778.10" x2="915.10" y2="906.40" stroke="#000" stroke-width="2.03" stroke-linecap="butt"/>
<rect x="906.20" y="652.70" width="17.80" height="125.40" fill="#BBE2D6" stroke="#000" stroke-width="2.26"/>
<line x1="906.20" y1="709.70" x2="924.00" y2="709.70" stroke="#000" stroke-width="4.10" stroke-linecap="butt"/>
<path d="M932.90,591.90 L932.90,591.90 C933.95,592.00 937.33,592.00 939.20,592.50 C941.07,593.00 942.78,593.52 944.10,594.90 C945.42,596.28 946.33,598.17 947.10,600.80 C947.87,603.43 948.63,606.75 948.70,610.70 C948.77,614.65 947.43,620.88 947.50,624.50 C947.57,628.12 949.00,629.45 949.10,632.40 C949.20,635.35 948.10,639.25 948.10,642.20 C948.10,645.15 949.20,646.48 949.10,650.10 C949.00,653.72 947.35,659.30 947.50,663.90 C947.65,668.50 949.80,673.42 950.00,677.70 C950.20,681.98 948.85,686.30 948.70,689.60 C948.55,692.90 949.30,693.55 949.10,697.50 C948.90,701.45 947.67,709.03 947.50,713.30 C947.33,717.57 948.17,719.17 948.10,723.10 C948.03,727.03 947.43,732.62 947.10,736.90 C946.77,741.18 946.10,746.47 946.10,748.80 C946.10,751.13 947.27,748.25 947.10,750.90 C946.93,753.55 945.77,759.10 945.10,764.70 C944.43,770.30 943.75,779.23 943.10,784.50 C942.45,789.77 941.35,793.35 941.20,796.30 C941.05,799.25 942.37,796.93 942.20,802.20 C942.03,807.47 940.70,819.35 940.20,827.90 C939.70,836.45 939.53,845.93 939.20,853.50 C938.87,861.07 938.20,866.07 938.20,873.30 C938.20,880.53 938.87,891.97 939.20,896.90 C939.53,901.83 940.53,901.42 940.20,902.90 C939.87,904.38 938.42,905.15 937.20,905.80 C935.98,906.45 933.62,906.63 932.90,906.80 L932.90,906.80 Z" fill="#1B9E77" stroke="#333333" stroke-width="1.95" stroke-linejoin="round"/>
<line x1="1093.10" y1="592.50" x2="1093.10" y2="741.90" stroke="#000" stroke-width="2.03" stroke-linecap="butt"/>
<line x1="1093.10" y1="863.40" x2="1093.10" y2="906.40" stroke="#000" stroke-width="2.03" stroke-linecap="butt"/>
<rect x="1083.80" y="741.90" width="18.60" height="121.50" fill="#F4CFB3" stroke="#000" stroke-width="2.26"/>
<line x1="1083.80" y1="810.10" x2="1102.40" y2="810.10" stroke="#000" stroke-width="4.10" stroke-linecap="butt"/>
<path d="M1110.90,591.90 L1110.90,591.90 C1111.22,594.03 1112.15,599.27 1112.80,604.70 C1113.45,610.13 1114.20,616.93 1114.80,624.50 C1115.40,632.07 1116.07,642.22 1116.40,650.10 C1116.73,657.98 1116.33,666.53 1116.80,671.80 C1117.27,677.07 1118.72,676.43 1119.20,681.70 C1119.68,686.97 1119.45,696.50 1119.70,703.40 C1119.95,710.30 1120.27,715.53 1120.70,723.10 C1121.13,730.67 1121.80,742.52 1122.30,748.80 C1122.80,755.08 1123.30,754.85 1123.70,760.80 C1124.10,766.75 1124.70,778.92 1124.70,784.50 C1124.70,790.08 1123.37,791.35 1123.70,794.30 C1124.03,797.25 1126.05,797.27 1126.70,802.20 C1127.35,807.13 1127.60,817.65 1127.60,823.90 C1127.60,830.15 1126.53,835.75 1126.70,839.70 C1126.87,843.65 1128.45,843.65 1128.60,847.60 C1128.75,851.55 1127.60,859.45 1127.60,863.40 C1127.60,867.35 1128.70,869.33 1128.60,871.30 C1128.50,873.27 1126.73,872.57 1127.00,875.20 C1127.27,877.83 1129.43,884.30 1130.20,887.10 C1130.97,889.90 1130.38,889.53 1131.60,892.00 C1132.82,894.47 1137.02,899.93 1137.50,901.90 C1137.98,903.87 1136.63,903.05 1134.50,903.80 C1132.37,904.55 1128.63,905.90 1124.70,906.40 C1120.77,906.90 1113.20,906.73 1110.90,906.80 L1110.90,906.80 Z" fill="#D95F02" stroke="#333333" stroke-width="1.95" stroke-linejoin="round"/>
<line x1="1270.90" y1="634.00" x2="1270.90" y2="789.80" stroke="#000" stroke-width="2.03" stroke-linecap="butt"/>
<line x1="1270.90" y1="894.00" x2="1270.90" y2="906.20" stroke="#000" stroke-width="2.03" stroke-linecap="butt"/>
<rect x="1261.70" y="789.80" width="18.30" height="104.20" fill="#D6D4E8" stroke="#000" stroke-width="2.26"/>
<line x1="1261.70" y1="857.90" x2="1280.00" y2="857.90" stroke="#000" stroke-width="4.10" stroke-linecap="butt"/>
<path d="M1289.00,591.40 L1289.00,591.40 C1289.25,595.27 1290.10,605.80 1290.50,614.60 C1290.90,623.40 1291.08,635.98 1291.40,644.20 C1291.72,652.42 1292.07,657.32 1292.40,663.90 C1292.73,670.48 1293.07,678.77 1293.40,683.70 C1293.73,688.63 1294.15,688.57 1294.40,693.50 C1294.65,698.43 1294.73,707.53 1294.90,713.30 C1295.07,719.07 1295.15,724.00 1295.40,728.10 C1295.65,732.20 1296.32,735.43 1296.40,737.90 C1296.48,740.37 1295.90,740.88 1295.90,742.90 C1295.90,744.92 1296.22,747.15 1296.40,750.00 C1296.58,752.85 1296.75,755.00 1297.00,760.00 C1297.25,765.00 1297.83,774.20 1297.90,780.00 C1297.97,785.80 1297.00,790.68 1297.40,794.80 C1297.80,798.92 1299.32,799.77 1300.30,804.70 C1301.28,809.63 1302.55,818.65 1303.30,824.40 C1304.05,830.15 1304.48,834.10 1304.80,839.20 C1305.12,844.30 1304.13,850.40 1305.20,855.00 C1306.27,859.60 1310.12,863.02 1311.20,866.80 C1312.28,870.58 1310.38,874.08 1311.70,877.70 C1313.02,881.32 1316.23,885.72 1319.10,888.50 C1321.97,891.28 1324.80,892.58 1328.90,894.40 C1333.00,896.22 1338.77,898.08 1343.70,899.40 C1348.63,900.72 1354.22,901.57 1358.50,902.30 C1362.78,903.03 1369.40,903.22 1369.40,903.80 C1369.40,904.38 1362.78,905.30 1358.50,905.80 C1354.22,906.30 1355.28,906.63 1343.70,906.80 C1332.12,906.97 1298.12,906.80 1289.00,906.80 L1289.00,906.80 Z" fill="#7570B3" stroke="#333333" stroke-width="1.95" stroke-linejoin="round"/>
<line x1="180.60" y1="1227.80" x2="180.60" y2="1306.40" stroke="#000" stroke-width="2.12" stroke-linecap="butt"/>
<line x1="180.60" y1="1359.60" x2="180.60" y2="1388.20" stroke="#000" stroke-width="2.12" stroke-linecap="butt"/>
<rect x="171.50" y="1306.40" width="18.60" height="53.20" fill="#BBE2D6" stroke="#000" stroke-width="2.35"/>
<line x1="171.50" y1="1349.80" x2="190.10" y2="1349.80" stroke="#000" stroke-width="4.28" stroke-linecap="butt"/>
<path d="M199.10,1084.00 L199.10,1084.00 C199.13,1103.33 199.18,1175.21 199.28,1200.00 C199.38,1224.79 199.55,1223.87 199.69,1232.73 C199.83,1241.60 199.89,1247.74 200.10,1253.19 C200.30,1258.65 200.51,1261.37 200.92,1265.47 C201.33,1269.56 202.14,1274.33 202.55,1277.74 C202.96,1281.15 203.37,1282.52 203.37,1285.92 C203.37,1289.33 202.62,1293.43 202.55,1298.20 C202.48,1302.97 202.69,1309.79 202.96,1314.57 C203.24,1319.34 203.44,1322.75 204.19,1326.84 C204.94,1330.93 206.10,1335.71 207.46,1339.12 C208.83,1342.53 210.19,1345.25 212.37,1347.30 C214.56,1349.35 217.28,1350.30 220.56,1351.39 C223.83,1352.48 231.19,1352.89 232.01,1353.85 C232.83,1354.80 227.92,1355.89 225.47,1357.12 C223.01,1358.35 220.01,1359.71 217.28,1361.21 C214.56,1362.71 211.42,1364.48 209.10,1366.12 C206.78,1367.76 204.87,1369.39 203.37,1371.03 C201.87,1372.67 200.78,1374.44 200.10,1375.94 C199.42,1377.44 199.44,1377.99 199.28,1380.03 C199.12,1382.08 199.14,1386.85 199.12,1388.22 L199.10,1388.22 Z" fill="#1B9E77" stroke="#333333" stroke-width="2.03" stroke-linejoin="round"/>
<line x1="362.80" y1="1322.70" x2="362.80" y2="1344.70" stroke="#000" stroke-width="2.12" stroke-linecap="butt"/>
<line x1="362.80" y1="1360.00" x2="362.80" y2="1383.60" stroke="#000" stroke-width="2.12" stroke-linecap="butt"/>
<rect x="353.50" y="1344.70" width="19.00" height="15.30" fill="#F4CFB3" stroke="#000" stroke-width="2.35"/>
<line x1="353.50" y1="1355.30" x2="372.50" y2="1355.30" stroke="#000" stroke-width="4.28" stroke-linecap="butt"/>
<path d="M381.20,1085.00 L381.20,1085.00 C381.23,1112.50 381.12,1220.39 381.36,1250.00 C381.60,1279.61 382.21,1257.75 382.63,1262.68 C383.05,1267.62 383.69,1273.26 383.90,1279.60 C384.11,1285.94 383.90,1294.40 383.90,1300.74 C383.90,1307.08 383.76,1313.42 383.90,1317.65 C384.04,1321.88 384.32,1323.29 384.75,1326.11 C385.17,1328.93 385.59,1332.03 386.44,1334.57 C387.28,1337.10 388.27,1339.36 389.82,1341.33 C391.37,1343.31 393.06,1344.86 395.74,1346.41 C398.42,1347.96 401.66,1349.44 405.89,1350.63 C410.12,1351.83 415.75,1352.89 421.11,1353.59 C426.47,1354.30 432.95,1354.54 438.02,1354.86 C443.10,1355.19 451.55,1355.26 451.55,1355.54 C451.55,1355.82 443.10,1355.96 438.02,1356.55 C432.95,1357.15 426.75,1357.96 421.11,1359.09 C415.47,1360.22 409.13,1361.91 404.20,1363.32 C399.26,1364.73 394.75,1366.14 391.51,1367.55 C388.27,1368.96 386.30,1370.23 384.75,1371.78 C383.20,1373.33 382.77,1374.59 382.21,1376.85 C381.65,1379.11 381.53,1383.19 381.36,1385.31 C381.19,1387.42 381.22,1388.83 381.19,1389.53 L381.20,1389.53 Z" fill="#D95F02" stroke="#333333" stroke-width="2.03" stroke-linejoin="round"/>
<line x1="545.30" y1="1330.60" x2="545.30" y2="1347.10" stroke="#000" stroke-width="2.12" stroke-linecap="butt"/>
<line x1="545.30" y1="1360.00" x2="545.30" y2="1377.30" stroke="#000" stroke-width="2.12" stroke-linecap="butt"/>
<rect x="535.40" y="1347.10" width="19.60" height="12.90" fill="#D6D4E8" stroke="#000" stroke-width="2.35"/>
<line x1="535.40" y1="1355.80" x2="555.00" y2="1355.80" stroke="#000" stroke-width="4.28" stroke-linecap="butt"/>
<path d="M563.50,1084.00 L563.50,1084.00 C563.52,1111.67 563.47,1220.04 563.65,1250.00 C563.82,1279.96 564.10,1260.38 564.56,1263.74 C565.02,1267.10 566.17,1266.34 566.40,1270.16 C566.62,1273.97 566.09,1279.32 565.94,1286.65 C565.78,1293.98 565.40,1307.26 565.48,1314.13 C565.56,1321.00 565.78,1323.75 566.40,1327.87 C567.01,1332.00 567.62,1335.81 569.14,1338.87 C570.67,1341.92 572.66,1344.21 575.56,1346.20 C578.46,1348.18 581.66,1349.56 586.55,1350.78 C591.44,1352.00 598.00,1352.84 604.87,1353.53 C611.75,1354.21 620.91,1354.60 627.78,1354.90 C634.65,1355.21 646.10,1354.98 646.10,1355.36 C646.10,1355.74 634.65,1356.28 627.78,1357.19 C620.91,1358.11 611.75,1359.48 604.87,1360.86 C598.00,1362.23 591.90,1363.91 586.55,1365.44 C581.21,1366.96 576.17,1368.64 572.81,1370.02 C569.45,1371.39 567.85,1372.31 566.40,1373.68 C564.94,1375.06 564.59,1375.67 564.10,1378.26 C563.62,1380.86 563.57,1387.43 563.46,1389.26 L563.50,1389.26 Z" fill="#7570B3" stroke="#333333" stroke-width="2.03" stroke-linejoin="round"/>
<line x1="908.90" y1="1331.50" x2="908.90" y2="1361.70" stroke="#000" stroke-width="1.98" stroke-linecap="butt"/>
<line x1="908.90" y1="1381.60" x2="908.90" y2="1393.10" stroke="#000" stroke-width="1.98" stroke-linecap="butt"/>
<rect x="899.80" y="1361.70" width="18.40" height="19.90" fill="#BBE2D6" stroke="#000" stroke-width="2.20"/>
<line x1="899.80" y1="1377.80" x2="918.20" y2="1377.80" stroke="#000" stroke-width="4.00" stroke-linecap="butt"/>
<path d="M926.70,1091.00 L926.70,1091.00 C926.71,1124.17 926.67,1253.66 926.79,1290.00 C926.91,1326.34 927.26,1300.57 927.42,1309.03 C927.58,1317.48 927.53,1333.34 927.74,1340.74 C927.95,1348.14 928.32,1350.25 928.69,1353.42 C929.06,1356.59 929.22,1357.12 929.96,1359.77 C930.70,1362.41 931.54,1366.74 933.13,1369.28 C934.71,1371.82 936.62,1373.40 939.47,1374.99 C942.32,1376.57 946.24,1377.47 950.25,1378.79 C954.27,1380.11 963.04,1381.96 963.57,1382.92 C964.10,1383.87 957.23,1384.03 953.42,1384.50 C949.62,1384.98 944.76,1385.35 940.74,1385.77 C936.72,1386.19 931.60,1386.72 929.32,1387.04 C927.05,1387.36 927.53,1386.51 927.10,1387.67 C926.68,1388.84 926.84,1392.96 926.79,1394.01 L926.70,1394.01 Z" fill="#1B9E77" stroke="#333333" stroke-width="1.90" stroke-linejoin="round"/>
<line x1="1083.90" y1="1357.80" x2="1083.90" y2="1371.60" stroke="#000" stroke-width="1.98" stroke-linecap="butt"/>
<line x1="1083.90" y1="1382.20" x2="1083.90" y2="1393.10" stroke="#000" stroke-width="1.98" stroke-linecap="butt"/>
<rect x="1074.50" y="1371.60" width="19.00" height="10.60" fill="#F4CFB3" stroke="#000" stroke-width="2.20"/>
<line x1="1074.50" y1="1379.70" x2="1093.50" y2="1379.70" stroke="#000" stroke-width="4.00" stroke-linecap="butt"/>
<path d="M1101.50,1094.00 L1101.50,1094.00 C1101.52,1133.33 1101.45,1288.32 1101.65,1330.00 C1101.85,1371.68 1102.41,1339.98 1102.70,1344.09 C1103.00,1348.21 1103.11,1351.73 1103.41,1354.67 C1103.70,1357.60 1103.94,1359.36 1104.46,1361.71 C1104.99,1364.06 1105.52,1366.88 1106.58,1368.76 C1107.64,1370.64 1108.93,1371.81 1110.81,1372.99 C1112.69,1374.16 1114.92,1374.98 1117.85,1375.81 C1120.79,1376.63 1124.90,1377.28 1128.42,1377.92 C1131.95,1378.57 1135.71,1379.10 1139.00,1379.68 C1142.28,1380.27 1148.16,1380.92 1148.16,1381.44 C1148.16,1381.97 1142.87,1382.38 1139.00,1382.85 C1135.12,1383.32 1129.60,1383.79 1124.90,1384.26 C1120.20,1384.73 1114.57,1385.32 1110.81,1385.67 C1107.05,1386.03 1103.88,1385.09 1102.35,1386.38 C1100.82,1387.67 1101.76,1392.25 1101.65,1393.42 L1101.50,1393.42 Z" fill="#D95F02" stroke="#333333" stroke-width="1.90" stroke-linejoin="round"/>
<line x1="1259.00" y1="1367.10" x2="1259.00" y2="1375.40" stroke="#000" stroke-width="1.98" stroke-linecap="butt"/>
<line x1="1259.00" y1="1382.20" x2="1259.00" y2="1386.30" stroke="#000" stroke-width="1.98" stroke-linecap="butt"/>
<rect x="1249.60" y="1375.40" width="18.80" height="6.80" fill="#D6D4E8" stroke="#000" stroke-width="2.20"/>
<line x1="1249.60" y1="1378.60" x2="1268.40" y2="1378.60" stroke="#000" stroke-width="4.00" stroke-linecap="butt"/>
<path d="M1276.50,1094.00 L1276.50,1094.00 C1276.52,1133.33 1276.47,1288.38 1276.65,1330.00 C1276.82,1371.62 1277.26,1339.16 1277.56,1343.74 C1277.87,1348.32 1278.02,1353.67 1278.48,1357.49 C1278.94,1361.30 1279.40,1364.36 1280.31,1366.65 C1281.23,1368.94 1282.14,1370.01 1283.98,1371.23 C1285.81,1372.45 1287.95,1373.14 1291.31,1373.98 C1294.66,1374.82 1298.94,1375.58 1304.13,1376.27 C1309.32,1376.95 1316.35,1377.56 1322.46,1378.10 C1328.56,1378.63 1335.21,1379.02 1340.78,1379.47 C1346.35,1379.93 1355.90,1380.47 1355.90,1380.85 C1355.90,1381.23 1346.35,1381.38 1340.78,1381.76 C1335.21,1382.15 1328.56,1382.68 1322.46,1383.14 C1316.35,1383.60 1310.24,1384.05 1304.13,1384.51 C1298.02,1384.97 1290.39,1385.50 1285.81,1385.89 C1281.23,1386.27 1278.17,1385.58 1276.65,1386.80 C1275.12,1388.02 1276.65,1392.15 1276.65,1393.22 L1276.50,1393.22 Z" fill="#7570B3" stroke="#333333" stroke-width="1.90" stroke-linejoin="round"/>
<line x1="189.50" y1="1601.60" x2="189.50" y2="1697.80" stroke="#000" stroke-width="2.12" stroke-linecap="butt"/>
<line x1="189.50" y1="1846.30" x2="189.50" y2="1929.10" stroke="#000" stroke-width="2.12" stroke-linecap="butt"/>
<rect x="179.90" y="1697.80" width="19.10" height="148.50" fill="#BBE2D6" stroke="#000" stroke-width="2.36"/>
<line x1="179.90" y1="1773.70" x2="199.00" y2="1773.70" stroke="#000" stroke-width="4.28" stroke-linecap="butt"/>
<path d="M208.10,1600.60 L208.10,1600.60 C208.45,1601.65 208.80,1605.32 210.20,1606.90 C211.60,1608.48 214.47,1609.12 216.50,1610.10 C218.53,1611.08 222.40,1611.92 222.40,1612.80 C222.40,1613.68 218.02,1614.62 216.50,1615.40 C214.98,1616.18 213.58,1615.38 213.30,1617.50 C213.02,1619.62 214.62,1623.52 214.80,1628.10 C214.98,1632.68 214.28,1637.25 214.40,1645.00 C214.52,1652.75 215.15,1662.63 215.50,1674.60 C215.85,1686.57 216.15,1701.73 216.50,1716.80 C216.85,1731.87 217.60,1754.28 217.60,1765.00 C217.60,1775.72 216.40,1775.23 216.50,1781.10 C216.60,1786.97 217.92,1793.15 218.20,1800.20 C218.48,1807.25 218.42,1814.25 218.20,1823.40 C217.98,1832.55 217.25,1844.53 216.90,1855.10 C216.55,1865.67 216.45,1879.40 216.10,1886.80 C215.75,1894.20 214.73,1896.32 214.80,1899.50 C214.87,1902.68 216.57,1903.78 216.50,1905.90 C216.43,1908.02 213.70,1910.80 214.40,1912.20 C215.10,1913.60 218.42,1913.52 220.70,1914.30 C222.98,1915.08 228.10,1916.12 228.10,1916.90 C228.10,1917.68 223.68,1918.20 220.70,1919.00 C217.72,1919.80 212.23,1920.72 210.20,1921.70 C208.17,1922.68 208.78,1923.67 208.50,1924.90 C208.22,1926.13 208.50,1928.40 208.50,1929.10 L208.10,1929.10 Z" fill="#1B9E77" stroke="#333333" stroke-width="2.03" stroke-linejoin="round"/>
<line x1="374.70" y1="1601.60" x2="374.70" y2="1768.50" stroke="#000" stroke-width="2.12" stroke-linecap="butt"/>
<line x1="374.70" y1="1889.00" x2="374.70" y2="1929.10" stroke="#000" stroke-width="2.12" stroke-linecap="butt"/>
<rect x="365.60" y="1768.50" width="18.60" height="120.50" fill="#F4CFB3" stroke="#000" stroke-width="2.36"/>
<line x1="365.60" y1="1838.20" x2="384.20" y2="1838.20" stroke="#000" stroke-width="4.28" stroke-linecap="butt"/>
<path d="M393.50,1600.60 L393.50,1600.60 C393.95,1602.35 395.82,1607.58 396.20,1611.10 C396.58,1614.62 395.73,1614.65 395.80,1621.70 C395.87,1628.75 396.18,1641.07 396.60,1653.40 C397.02,1665.73 397.67,1681.60 398.30,1695.70 C398.93,1709.80 399.80,1726.45 400.40,1738.00 C401.00,1749.55 401.55,1754.98 401.90,1765.00 C402.25,1775.02 402.12,1789.07 402.50,1798.10 C402.88,1807.13 404.02,1812.87 404.20,1819.20 C404.38,1825.53 403.35,1830.12 403.60,1836.10 C403.85,1842.08 405.00,1848.75 405.70,1855.10 C406.40,1861.45 407.27,1867.15 407.80,1874.20 C408.33,1881.25 408.18,1892.12 408.90,1897.40 C409.62,1902.68 411.22,1903.60 412.10,1905.90 C412.98,1908.20 411.38,1909.52 414.20,1911.20 C417.02,1912.88 428.12,1914.70 429.00,1916.00 C429.88,1917.30 424.27,1918.05 419.50,1919.00 C414.73,1919.95 404.57,1920.90 400.40,1921.70 C396.23,1922.50 395.62,1922.57 394.50,1923.80 C393.38,1925.03 393.83,1928.22 393.70,1929.10 L393.50,1929.10 Z" fill="#D95F02" stroke="#333333" stroke-width="2.03" stroke-linejoin="round"/>
<line x1="560.40" y1="1640.60" x2="560.40" y2="1802.50" stroke="#000" stroke-width="2.12" stroke-linecap="butt"/>
<line x1="560.40" y1="1911.50" x2="560.40" y2="1928.30" stroke="#000" stroke-width="2.12" stroke-linecap="butt"/>
<rect x="550.90" y="1802.50" width="18.60" height="109.00" fill="#D6D4E8" stroke="#000" stroke-width="2.36"/>
<line x1="550.90" y1="1872.60" x2="569.50" y2="1872.60" stroke="#000" stroke-width="4.28" stroke-linecap="butt"/>
<path d="M578.80,1600.80 L578.70,1600.80 C578.90,1603.00 579.50,1605.82 579.90,1614.00 C580.30,1622.18 580.70,1637.93 581.10,1649.90 C581.50,1661.87 581.90,1673.82 582.30,1685.80 C582.70,1697.78 583.00,1708.60 583.50,1721.80 C584.00,1735.00 585.00,1753.63 585.30,1765.00 C585.60,1776.37 584.90,1782.85 585.30,1790.00 C585.70,1797.15 587.20,1802.92 587.70,1807.90 C588.20,1812.88 588.30,1814.90 588.30,1819.90 C588.30,1824.90 587.50,1831.92 587.70,1837.90 C587.90,1843.88 588.80,1849.82 589.50,1855.80 C590.20,1861.78 591.20,1868.80 591.90,1873.80 C592.60,1878.80 593.10,1881.60 593.70,1885.80 C594.30,1890.00 594.00,1896.00 595.50,1899.00 C597.00,1902.00 600.90,1902.10 602.70,1903.80 C604.50,1905.50 604.12,1907.92 606.30,1909.20 C608.48,1910.48 610.22,1910.70 615.80,1911.50 C621.38,1912.30 632.00,1913.20 639.80,1914.00 C647.60,1914.80 662.60,1915.62 662.60,1916.30 C662.60,1916.98 648.58,1917.40 639.80,1918.10 C631.02,1918.80 618.88,1919.60 609.90,1920.50 C600.92,1921.40 590.90,1922.50 585.90,1923.50 C580.90,1924.50 581.00,1925.60 579.90,1926.50 C578.80,1927.40 579.40,1928.50 579.30,1928.90 L578.80,1928.90 Z" fill="#7570B3" stroke="#333333" stroke-width="2.03" stroke-linejoin="round"/>
<line x1="898.00" y1="1656.60" x2="898.00" y2="1744.40" stroke="#000" stroke-width="2.17" stroke-linecap="butt"/>
<line x1="898.00" y1="1803.60" x2="898.00" y2="1891.30" stroke="#000" stroke-width="2.17" stroke-linecap="butt"/>
<rect x="887.90" y="1744.40" width="19.80" height="59.20" fill="#BBE2D6" stroke="#000" stroke-width="2.41"/>
<line x1="887.90" y1="1771.30" x2="907.70" y2="1771.30" stroke="#000" stroke-width="4.39" stroke-linecap="butt"/>
<path d="M917.20,1596.38 L917.21,1596.38 C917.26,1602.46 917.39,1624.13 917.53,1632.85 C917.67,1641.58 917.53,1644.48 918.05,1648.71 C918.58,1652.94 919.73,1655.67 920.70,1658.22 C921.67,1660.78 923.96,1662.80 923.87,1664.04 C923.78,1665.27 920.79,1664.13 920.17,1665.62 C919.55,1667.12 919.82,1670.56 920.17,1673.02 C920.52,1675.49 921.49,1678.31 922.28,1680.42 C923.08,1682.54 924.66,1684.39 924.93,1685.71 C925.19,1687.03 921.31,1687.56 923.87,1688.35 C926.42,1689.14 939.55,1689.85 940.25,1690.47 C940.96,1691.08 930.04,1691.35 928.10,1692.05 C926.16,1692.76 927.48,1693.99 928.63,1694.69 C929.77,1695.40 933.47,1695.49 934.97,1696.28 C936.47,1697.07 937.61,1698.57 937.61,1699.45 C937.61,1700.33 934.00,1700.86 934.97,1701.56 C935.94,1702.27 943.78,1702.97 943.42,1703.68 C943.07,1704.38 934.97,1704.91 932.85,1705.79 C930.74,1706.67 930.92,1708.08 930.74,1708.96 C930.56,1709.84 932.33,1710.37 931.80,1711.08 C931.27,1711.78 928.27,1712.49 927.57,1713.19 C926.86,1713.90 923.96,1714.60 927.57,1715.31 C931.18,1716.01 948.89,1716.81 949.24,1717.42 C949.59,1718.03 932.06,1717.93 929.68,1718.99 C927.30,1720.04 934.79,1722.42 934.97,1723.74 C935.14,1725.06 930.74,1725.94 930.74,1726.91 C930.74,1727.88 930.92,1728.85 934.97,1729.56 C939.02,1730.26 954.52,1730.61 955.05,1731.14 C955.58,1731.67 940.78,1731.85 938.14,1732.73 C935.50,1733.61 937.26,1735.46 939.20,1736.43 C941.13,1737.40 949.06,1737.84 949.77,1738.54 C950.47,1739.25 943.78,1739.95 943.42,1740.66 C943.07,1741.36 940.25,1742.15 947.65,1742.77 C955.05,1743.39 987.47,1743.47 987.82,1744.36 C988.17,1745.24 954.35,1747.00 949.77,1748.05 C945.19,1749.11 959.99,1749.82 960.34,1750.70 C960.69,1751.58 952.23,1752.37 951.88,1753.34 C951.53,1754.31 952.41,1755.72 958.22,1756.51 C964.04,1757.30 985.00,1757.57 986.77,1758.10 C988.53,1758.63 969.68,1759.24 968.79,1759.68 C967.91,1760.12 982.18,1760.21 981.48,1760.74 C980.78,1761.27 965.45,1762.33 964.57,1762.85 C963.69,1763.38 976.90,1762.85 976.19,1763.91 C975.49,1764.97 955.67,1767.96 960.34,1769.20 C965.01,1770.43 1005.26,1770.52 1004.21,1771.31 C1003.15,1772.10 961.13,1772.90 954.00,1773.95 C946.86,1775.01 961.40,1776.60 961.40,1777.65 C961.40,1778.71 955.23,1779.42 954.00,1780.30 C952.76,1781.18 951.35,1782.23 954.00,1782.94 C956.64,1783.64 970.20,1783.82 969.85,1784.52 C969.50,1785.23 953.29,1786.02 951.88,1787.17 C950.47,1788.31 961.40,1790.25 961.40,1791.40 C961.40,1792.54 953.11,1793.16 951.88,1794.04 C950.65,1794.92 949.59,1795.98 954.00,1796.68 C958.40,1797.39 977.78,1797.65 978.31,1798.27 C978.84,1798.88 958.22,1799.24 957.17,1800.38 C956.11,1801.53 971.44,1803.99 971.97,1805.14 C972.49,1806.28 962.28,1806.37 960.34,1807.25 C958.40,1808.13 958.58,1809.63 960.34,1810.42 C962.10,1811.22 973.20,1811.13 970.91,1812.01 C968.62,1812.89 950.30,1814.39 946.60,1815.71 C942.90,1817.03 947.48,1818.62 948.71,1819.94 C949.94,1821.26 951.88,1822.84 954.00,1823.64 C956.11,1824.43 962.45,1824.08 961.40,1824.69 C960.34,1825.31 950.65,1826.28 947.65,1827.34 C944.66,1828.39 945.54,1830.07 943.42,1831.04 C941.31,1832.00 937.43,1832.18 934.97,1833.15 C932.50,1834.12 930.21,1835.35 928.63,1836.85 C927.04,1838.35 925.98,1841.16 925.45,1842.14 C924.93,1843.11 925.98,1841.89 925.45,1842.68 C924.93,1843.48 923.25,1844.98 922.28,1846.91 C921.31,1848.85 920.26,1851.85 919.64,1854.31 C919.02,1856.78 918.88,1856.96 918.58,1861.71 C918.28,1866.47 918.02,1871.40 917.84,1882.85 C917.67,1894.31 917.23,1922.14 917.53,1930.42 C917.83,1938.70 919.29,1932.18 919.64,1932.54 L917.20,1932.54 Z" fill="#1B9E77" stroke="#333333" stroke-width="2.08" stroke-linejoin="round"/>
<line x1="1090.50" y1="1647.70" x2="1090.50" y2="1751.20" stroke="#000" stroke-width="2.17" stroke-linecap="butt"/>
<line x1="1090.50" y1="1821.00" x2="1090.50" y2="1891.80" stroke="#000" stroke-width="2.17" stroke-linecap="butt"/>
<rect x="1080.80" y="1751.20" width="19.60" height="69.80" fill="#F4CFB3" stroke="#000" stroke-width="2.41"/>
<line x1="1080.80" y1="1786.60" x2="1100.40" y2="1786.60" stroke="#000" stroke-width="4.39" stroke-linecap="butt"/>
<path d="M1109.40,1598.50 L1109.36,1598.50 C1109.53,1604.22 1110.06,1624.49 1110.41,1632.85 C1110.76,1641.22 1111.12,1643.60 1111.47,1648.71 C1111.82,1653.82 1112.53,1659.99 1112.53,1663.51 C1112.53,1667.03 1111.47,1667.21 1111.47,1669.85 C1111.47,1672.49 1111.73,1676.55 1112.53,1679.37 C1113.32,1682.18 1113.85,1684.92 1116.23,1686.77 C1118.60,1688.62 1126.00,1689.32 1126.80,1690.47 C1127.59,1691.61 1120.98,1692.32 1120.98,1693.64 C1120.98,1694.96 1124.77,1696.72 1126.80,1698.39 C1128.82,1700.07 1133.49,1702.09 1133.14,1703.68 C1132.79,1705.26 1127.15,1706.23 1124.68,1707.91 C1122.22,1709.58 1117.64,1712.05 1118.34,1713.72 C1119.05,1715.39 1128.47,1716.98 1128.91,1717.95 C1129.35,1718.91 1122.39,1718.20 1120.98,1719.51 C1119.57,1720.83 1118.96,1724.01 1120.45,1725.86 C1121.95,1727.71 1128.65,1729.20 1129.97,1730.61 C1131.29,1732.02 1127.59,1732.99 1128.38,1734.31 C1129.18,1735.63 1133.49,1737.40 1134.73,1738.54 C1135.96,1739.69 1132.70,1740.21 1135.78,1741.18 C1138.87,1742.15 1152.61,1743.30 1153.22,1744.36 C1153.84,1745.41 1141.95,1746.21 1139.48,1747.53 C1137.02,1748.85 1136.84,1750.61 1138.42,1752.28 C1140.01,1753.96 1146.62,1756.34 1149.00,1757.57 C1151.37,1758.80 1152.43,1758.45 1152.70,1759.68 C1152.96,1760.92 1150.67,1763.56 1150.58,1764.97 C1150.49,1766.38 1149.79,1767.08 1152.17,1768.14 C1154.55,1769.20 1166.97,1770.34 1164.85,1771.31 C1162.74,1772.28 1143.89,1772.54 1139.48,1773.95 C1135.08,1775.36 1138.25,1778.09 1138.42,1779.77 C1138.60,1781.44 1141.33,1782.50 1140.54,1784.00 C1139.75,1785.49 1134.55,1787.17 1133.67,1788.75 C1132.79,1790.34 1133.05,1792.01 1135.25,1793.51 C1137.46,1795.01 1145.82,1796.50 1146.88,1797.74 C1147.94,1798.97 1141.60,1799.68 1141.60,1800.91 C1141.60,1802.14 1145.65,1803.90 1146.88,1805.14 C1148.11,1806.37 1146.88,1807.25 1149.00,1808.31 C1151.11,1809.37 1158.69,1810.33 1159.57,1811.48 C1160.45,1812.63 1152.87,1813.86 1154.28,1815.18 C1155.69,1816.50 1165.03,1818.35 1168.02,1819.41 C1171.02,1820.47 1168.20,1820.64 1172.25,1821.52 C1176.30,1822.40 1191.81,1823.81 1192.34,1824.69 C1192.86,1825.57 1180.36,1826.10 1175.42,1826.81 C1170.49,1827.51 1165.03,1828.13 1162.74,1828.92 C1160.45,1829.71 1164.85,1830.60 1161.68,1831.56 C1158.51,1832.53 1147.06,1833.59 1143.71,1834.74 C1140.36,1835.88 1143.36,1837.29 1141.60,1838.44 C1139.83,1839.58 1136.13,1840.46 1133.14,1841.61 C1130.14,1842.75 1125.39,1844.42 1123.63,1845.31 C1121.86,1846.19 1123.63,1845.94 1122.57,1846.91 C1121.51,1847.89 1119.22,1849.56 1117.28,1851.14 C1115.35,1852.73 1111.91,1854.31 1110.94,1856.43 C1109.97,1858.54 1111.56,1860.30 1111.47,1863.83 C1111.38,1867.35 1110.68,1866.65 1110.41,1877.57 C1110.15,1888.49 1109.71,1920.20 1109.88,1929.37 C1110.06,1938.53 1111.21,1932.01 1111.47,1932.54 L1109.40,1932.54 Z" fill="#D95F02" stroke="#333333" stroke-width="2.08" stroke-linejoin="round"/>
<line x1="1282.80" y1="1652.70" x2="1282.80" y2="1757.60" stroke="#000" stroke-width="2.17" stroke-linecap="butt"/>
<line x1="1282.80" y1="1827.90" x2="1282.80" y2="1932.00" stroke="#000" stroke-width="2.17" stroke-linecap="butt"/>
<rect x="1272.60" y="1757.60" width="20.10" height="70.30" fill="#D6D4E8" stroke="#000" stroke-width="2.41"/>
<line x1="1272.60" y1="1802.80" x2="1292.70" y2="1802.80" stroke="#000" stroke-width="4.39" stroke-linecap="butt"/>
<path d="M1302.00,1608.54 L1302.00,1608.54 C1302.17,1614.36 1302.70,1634.97 1303.05,1643.42 C1303.41,1651.88 1304.02,1654.88 1304.11,1659.28 C1304.20,1663.69 1303.23,1665.62 1303.58,1669.85 C1303.94,1674.08 1304.38,1681.13 1306.23,1684.65 C1308.08,1688.17 1313.80,1689.41 1314.68,1690.99 C1315.56,1692.58 1310.72,1692.14 1311.51,1694.16 C1312.30,1696.19 1319.79,1700.51 1319.44,1703.15 C1319.09,1705.79 1311.25,1708.08 1309.40,1710.02 C1307.55,1711.96 1307.55,1713.46 1308.34,1714.78 C1309.13,1716.10 1313.98,1716.98 1314.15,1717.95 C1314.33,1718.91 1310.28,1719.08 1309.40,1720.57 C1308.52,1722.06 1307.81,1725.15 1308.87,1726.91 C1309.93,1728.68 1314.24,1729.82 1315.74,1731.14 C1317.24,1732.46 1316.27,1733.61 1317.85,1734.84 C1319.44,1736.07 1323.49,1737.48 1325.25,1738.54 C1327.02,1739.60 1325.25,1740.21 1328.42,1741.18 C1331.60,1742.15 1342.87,1743.39 1344.28,1744.36 C1345.69,1745.32 1338.11,1746.03 1336.88,1747.00 C1335.65,1747.97 1337.76,1748.94 1336.88,1750.17 C1336.00,1751.40 1331.60,1753.08 1331.60,1754.40 C1331.60,1755.72 1337.23,1756.86 1336.88,1758.10 C1336.53,1759.33 1331.07,1760.30 1329.48,1761.80 C1327.90,1763.29 1325.43,1765.53 1327.37,1767.08 C1329.31,1768.63 1341.11,1769.87 1341.11,1771.10 C1341.11,1772.33 1329.31,1773.04 1327.37,1774.48 C1325.43,1775.93 1328.78,1778.09 1329.48,1779.77 C1330.19,1781.44 1332.39,1783.03 1331.60,1784.52 C1330.80,1786.02 1325.69,1787.08 1324.73,1788.75 C1323.76,1790.43 1323.76,1792.98 1325.78,1794.57 C1327.81,1796.15 1335.74,1797.21 1336.88,1798.27 C1338.03,1799.32 1332.48,1799.76 1332.65,1800.91 C1332.83,1802.05 1336.88,1803.90 1337.94,1805.14 C1339.00,1806.37 1337.50,1807.16 1339.00,1808.31 C1340.49,1809.45 1345.69,1810.78 1346.92,1812.01 C1348.16,1813.24 1344.19,1814.30 1346.40,1815.71 C1348.60,1817.12 1354.59,1818.88 1360.14,1820.47 C1365.69,1822.05 1378.37,1823.99 1379.69,1825.22 C1381.01,1826.46 1370.27,1826.81 1368.07,1827.86 C1365.86,1828.92 1367.80,1830.42 1366.48,1831.56 C1365.16,1832.71 1360.67,1833.41 1360.14,1834.74 C1359.61,1836.06 1365.07,1838.17 1363.31,1839.49 C1361.55,1840.81 1355.38,1841.52 1349.57,1842.66 C1343.75,1843.81 1334.06,1844.95 1328.42,1846.36 C1322.79,1847.78 1319.09,1849.55 1315.74,1851.14 C1312.39,1852.73 1309.75,1854.31 1308.34,1855.90 C1306.93,1857.48 1307.37,1859.16 1307.28,1860.66 C1307.20,1862.15 1308.34,1863.30 1307.81,1864.88 C1307.28,1866.47 1304.99,1868.23 1304.11,1870.17 C1303.23,1872.11 1302.70,1873.52 1302.53,1876.51 C1302.35,1879.51 1303.05,1879.15 1303.05,1888.14 C1303.05,1897.12 1302.26,1923.02 1302.53,1930.42 C1302.79,1937.82 1304.29,1932.18 1304.64,1932.54 L1302.00,1932.54 Z" fill="#7570B3" stroke="#333333" stroke-width="2.08" stroke-linejoin="round"/>
<line x1="661.70" y1="2125.90" x2="661.70" y2="2163.20" stroke="#000" stroke-width="1.83" stroke-linecap="butt"/>
<line x1="661.70" y1="2188.30" x2="661.70" y2="2225.80" stroke="#000" stroke-width="1.83" stroke-linecap="butt"/>
<rect x="653.40" y="2163.20" width="16.70" height="25.10" fill="#BBE2D6" stroke="#000" stroke-width="2.03"/>
<line x1="653.40" y1="2172.90" x2="670.10" y2="2172.90" stroke="#000" stroke-width="3.70" stroke-linecap="butt"/>
<path d="M677.50,2112.16 L677.53,2112.16 C677.61,2114.53 677.79,2121.93 678.05,2126.43 C678.32,2130.92 678.41,2136.12 679.11,2139.11 C679.82,2142.11 679.99,2142.64 682.28,2144.40 C684.57,2146.16 688.45,2148.19 692.85,2149.68 C697.26,2151.18 703.42,2152.15 708.71,2153.38 C714.00,2154.62 719.28,2155.85 724.57,2157.08 C729.85,2158.32 736.19,2159.46 740.42,2160.78 C744.65,2162.10 749.06,2163.51 749.94,2165.01 C750.82,2166.51 749.06,2167.74 745.71,2169.77 C742.36,2171.79 735.14,2174.70 729.85,2177.17 C724.57,2179.63 719.28,2181.57 714.00,2184.57 C708.71,2187.56 702.19,2191.61 698.14,2195.14 C694.09,2198.66 691.97,2202.18 689.68,2205.71 C687.39,2209.23 685.72,2212.76 684.40,2216.28 C683.08,2219.80 682.37,2221.92 681.75,2226.85 C681.14,2231.78 681.14,2238.28 680.70,2245.86 C680.26,2253.43 679.52,2262.59 679.11,2272.28 C678.71,2281.97 678.48,2293.42 678.27,2304.00 C678.05,2314.57 677.93,2320.91 677.84,2335.71 C677.76,2350.51 677.76,2383.28 677.74,2392.79 L677.50,2392.79 Z" fill="#1B9E77" stroke="#333333" stroke-width="1.76" stroke-linejoin="round"/>
<line x1="822.20" y1="2116.90" x2="822.20" y2="2175.60" stroke="#000" stroke-width="1.83" stroke-linecap="butt"/>
<line x1="822.20" y1="2220.00" x2="822.20" y2="2286.60" stroke="#000" stroke-width="1.83" stroke-linecap="butt"/>
<rect x="814.00" y="2175.60" width="16.40" height="44.40" fill="#F4CFB3" stroke="#000" stroke-width="2.03"/>
<line x1="814.00" y1="2194.10" x2="830.40" y2="2194.10" stroke="#000" stroke-width="3.70" stroke-linecap="butt"/>
<path d="M838.10,2116.38 L838.05,2116.38 C838.14,2120.70 838.23,2137.09 838.58,2142.28 C838.94,2147.48 838.67,2145.81 840.17,2147.57 C841.67,2149.33 844.57,2151.09 847.57,2152.85 C850.56,2154.62 854.97,2156.55 858.14,2158.14 C861.31,2159.73 864.13,2160.78 866.60,2162.37 C869.06,2163.95 871.35,2165.72 872.94,2167.65 C874.52,2169.59 875.49,2172.06 876.11,2174.00 C876.73,2175.93 876.81,2177.87 876.64,2179.28 C876.46,2180.69 875.23,2181.40 875.05,2182.45 C874.88,2183.51 876.11,2184.21 875.58,2185.62 C875.05,2187.03 873.20,2188.79 871.88,2190.91 C870.56,2193.02 869.06,2196.02 867.65,2198.31 C866.24,2200.60 864.04,2202.89 863.42,2204.65 C862.81,2206.41 864.22,2207.47 863.95,2208.88 C863.69,2210.29 862.10,2211.70 861.84,2213.11 C861.58,2214.52 862.98,2215.40 862.37,2217.34 C861.75,2219.27 859.55,2222.27 858.14,2224.74 C856.73,2227.20 855.14,2230.02 853.91,2232.14 C852.68,2234.25 851.44,2235.13 850.74,2237.42 C850.04,2239.71 850.56,2242.34 849.68,2245.86 C848.80,2249.38 846.69,2254.49 845.45,2258.54 C844.22,2262.59 843.16,2266.12 842.28,2270.17 C841.40,2274.22 840.66,2277.22 840.17,2282.85 C839.68,2288.49 839.59,2296.95 839.32,2304.00 C839.06,2311.04 838.76,2310.34 838.58,2325.14 C838.41,2339.94 838.32,2381.52 838.27,2392.79 L838.10,2392.79 Z" fill="#D95F02" stroke="#333333" stroke-width="1.76" stroke-linejoin="round"/>
<line x1="982.40" y1="2134.70" x2="982.40" y2="2185.90" stroke="#000" stroke-width="1.83" stroke-linecap="butt"/>
<line x1="982.40" y1="2252.70" x2="982.40" y2="2353.20" stroke="#000" stroke-width="1.83" stroke-linecap="butt"/>
<rect x="974.30" y="2185.90" width="16.40" height="66.80" fill="#D6D4E8" stroke="#000" stroke-width="2.03"/>
<line x1="974.30" y1="2220.00" x2="990.70" y2="2220.00" stroke="#000" stroke-width="3.70" stroke-linecap="butt"/>
<path d="M998.30,2133.83 L998.27,2133.83 C998.41,2135.76 998.44,2142.46 999.11,2145.45 C999.78,2148.45 1000.52,2149.86 1002.28,2151.80 C1004.05,2153.74 1007.22,2155.50 1009.68,2157.08 C1012.15,2158.67 1014.97,2159.55 1017.08,2161.31 C1019.20,2163.07 1021.22,2165.54 1022.37,2167.65 C1023.51,2169.77 1023.95,2171.88 1023.95,2174.00 C1023.95,2176.11 1022.98,2177.87 1022.37,2180.34 C1021.75,2182.80 1021.05,2186.33 1020.25,2188.79 C1019.46,2191.26 1018.14,2193.02 1017.61,2195.14 C1017.08,2197.25 1016.99,2198.84 1017.08,2201.48 C1017.17,2204.12 1017.61,2208.00 1018.14,2210.99 C1018.67,2213.99 1019.73,2216.98 1020.25,2219.45 C1020.78,2221.92 1021.40,2223.85 1021.31,2225.79 C1021.22,2227.73 1020.17,2228.72 1019.73,2231.08 C1019.28,2233.44 1019.11,2235.73 1018.67,2239.96 C1018.23,2244.18 1017.88,2252.45 1017.08,2256.43 C1016.29,2260.41 1014.70,2260.83 1013.91,2263.83 C1013.12,2266.82 1013.03,2271.23 1012.33,2274.40 C1011.62,2277.57 1010.39,2280.04 1009.68,2282.85 C1008.98,2285.67 1009.15,2287.79 1008.10,2291.31 C1007.04,2294.83 1004.57,2299.24 1003.34,2304.00 C1002.11,2308.75 1001.31,2314.57 1000.70,2319.85 C1000.08,2325.14 999.94,2323.55 999.64,2335.71 C999.34,2347.86 999.02,2383.28 998.90,2392.79 L998.30,2392.79 Z" fill="#7570B3" stroke="#333333" stroke-width="1.76" stroke-linejoin="round"/>
</svg></body></html>
